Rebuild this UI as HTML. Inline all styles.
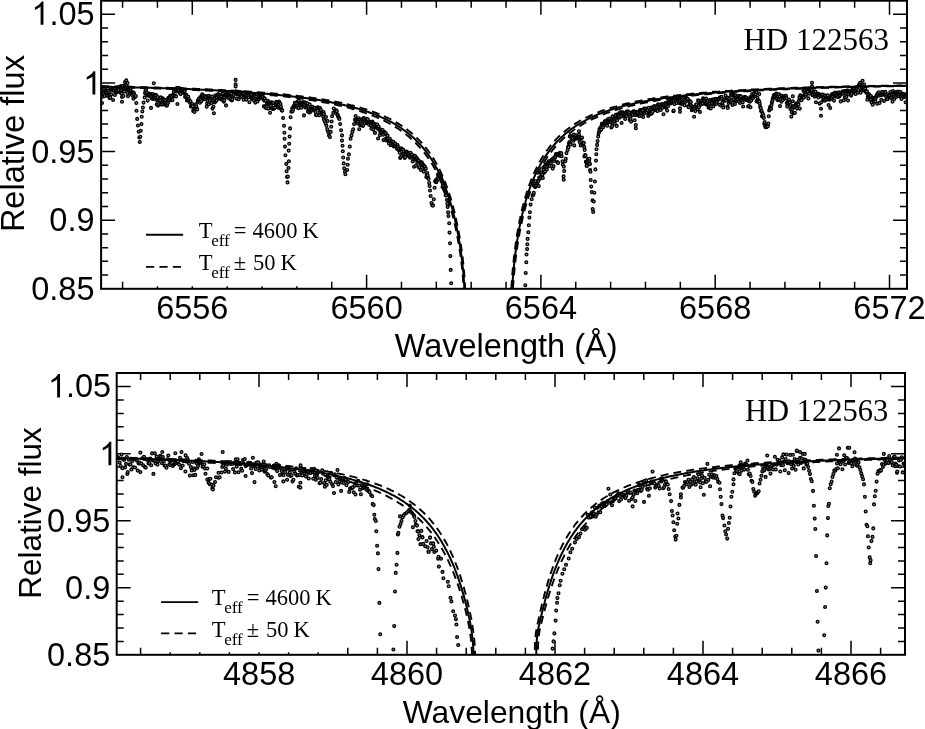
<!DOCTYPE html>
<html><head><meta charset="utf-8"><title>HD 122563</title>
<style>
html,body{margin:0;padding:0;background:#fff;}
body{width:925px;height:729px;overflow:hidden;}
svg{display:block;will-change:transform;}
.sans{font-family:"Liberation Sans",sans-serif;}
.serif{font-family:"Liberation Serif",serif;}
</style></head><body>
<svg width="925" height="729" viewBox="0 0 925 729">
<rect width="925" height="729" fill="#fff"/>
<defs><marker id="m" markerUnits="userSpaceOnUse" markerWidth="6" markerHeight="6" refX="3" refY="3" overflow="visible"><circle cx="3" cy="3" r="1.4" fill="#999" stroke="#000" stroke-width="1.3"/></marker></defs>

<defs><clipPath id="ct"><rect x="101.1" y="0.7" width="805.9" height="288.1"/></clipPath>
<clipPath id="cb"><rect x="116.7" y="373.0" width="788.3" height="281.79999999999995"/></clipPath></defs>
<path d="M192.30,288.8v-14M192.30,0.7v14M366.60,288.8v-14M366.60,0.7v14M540.90,288.8v-14M540.90,0.7v14M715.20,288.8v-14M715.20,0.7v14M889.50,288.8v-14M889.50,0.7v14M122.58,288.8v-7M122.58,0.7v7M157.44,288.8v-7M157.44,0.7v7M227.16,288.8v-7M227.16,0.7v7M262.02,288.8v-7M262.02,0.7v7M296.88,288.8v-7M296.88,0.7v7M331.74,288.8v-7M331.74,0.7v7M401.46,288.8v-7M401.46,0.7v7M436.32,288.8v-7M436.32,0.7v7M471.18,288.8v-7M471.18,0.7v7M506.04,288.8v-7M506.04,0.7v7M575.76,288.8v-7M575.76,0.7v7M610.62,288.8v-7M610.62,0.7v7M645.48,288.8v-7M645.48,0.7v7M680.34,288.8v-7M680.34,0.7v7M750.06,288.8v-7M750.06,0.7v7M784.92,288.8v-7M784.92,0.7v7M819.78,288.8v-7M819.78,0.7v7M854.64,288.8v-7M854.64,0.7v7M101.1,14.30h14M907.0,14.30h-14M101.1,82.93h14M907.0,82.93h-14M101.1,151.55h14M907.0,151.55h-14M101.1,220.18h14M907.0,220.18h-14M101.1,275.08h7M907.0,275.08h-7M101.1,261.35h7M907.0,261.35h-7M101.1,247.63h7M907.0,247.63h-7M101.1,233.90h7M907.0,233.90h-7M101.1,206.45h7M907.0,206.45h-7M101.1,192.73h7M907.0,192.73h-7M101.1,179.00h7M907.0,179.00h-7M101.1,165.28h7M907.0,165.28h-7M101.1,137.83h7M907.0,137.83h-7M101.1,124.10h7M907.0,124.10h-7M101.1,110.38h7M907.0,110.38h-7M101.1,96.65h7M907.0,96.65h-7M101.1,69.20h7M907.0,69.20h-7M101.1,55.48h7M907.0,55.48h-7M101.1,41.75h7M907.0,41.75h-7M101.1,28.03h7M907.0,28.03h-7" stroke="#000" stroke-width="1.5" fill="none"/>
<g clip-path="url(#ct)">
<path d="M101.4 88.6 101.8 90.2 102.0 97.0 102.0 103.0 102.3 90.1 102.8 93.6 103.2 91.1 103.7 94.2 104.1 88.9 104.6 96.1 105.0 91.3 105.5 92.1 105.9 91.3 106.4 90.5 106.8 89.1 107.3 93.6 107.7 88.6 108.2 92.2 108.6 95.5 109.1 90.8 109.5 98.1 110.0 94.9 110.4 97.5 110.9 89.5 111.3 94.4 111.8 89.6 112.2 89.0 112.7 89.1 113.1 100.0 113.6 90.6 114.0 88.2 114.5 88.4 114.9 95.0 115.4 90.0 115.8 92.3 116.3 91.4 116.7 92.5 117.2 91.2 117.6 87.5 118.1 91.5 118.5 89.9 119.0 87.4 119.4 87.2 119.9 86.8 120.3 92.5 120.8 86.4 121.2 92.9 121.7 93.8 122.0 97.0 122.0 101.8 122.1 90.0 122.6 85.9 123.0 88.5 123.5 96.0 123.9 88.9 124.4 91.4 124.8 85.3 125.0 82.0 125.3 88.2 125.7 86.3 126.2 89.0 126.3 80.4 126.6 86.0 127.1 89.2 127.5 83.0 127.5 93.0 128.0 89.5 128.0 96.3 128.4 87.5 128.9 89.0 129.3 87.7 129.8 92.9 130.2 90.3 130.7 88.8 131.1 92.4 131.6 93.8 132.0 94.9 132.5 92.7 132.9 92.3 133.4 98.7 133.8 92.7 134.2 94.4 134.7 97.0 135.1 96.7 135.8 96.0 136.3 103.0 136.5 110.8 137.2 118.9 137.9 125.5 138.7 131.8 139.3 137.5 139.8 142.0 140.3 136.8 140.8 130.7 141.5 124.1 141.7 116.8 142.4 111.5 142.9 107.5 143.6 102.6 144.7 97.4 145.0 93.1 145.5 90.2 145.9 89.9 146.4 93.2 146.8 92.5 147.3 94.9 147.7 100.6 148.2 95.6 148.6 95.1 149.1 93.6 149.5 95.3 150.0 94.1 150.4 94.4 150.9 96.8 151.0 107.9 151.3 96.0 151.8 98.5 152.2 94.1 152.7 94.0 153.1 98.9 153.6 95.2 153.8 83.2 154.0 98.2 154.5 98.8 154.9 95.2 155.4 94.9 155.8 97.4 156.3 95.4 156.7 104.4 157.2 100.5 157.6 97.1 158.1 105.6 158.5 99.7 159.0 104.1 159.4 99.6 159.9 100.2 160.3 100.2 160.8 97.4 161.2 104.4 161.7 103.3 162.1 104.5 162.6 98.3 163.0 99.6 163.5 99.4 163.9 103.5 164.4 104.4 164.8 102.1 165.3 100.1 165.7 103.9 166.2 103.0 166.6 105.7 167.1 105.1 167.5 99.5 168.0 102.9 168.4 97.9 168.9 100.7 169.3 98.5 169.8 99.1 170.2 95.9 170.7 96.9 171.1 95.9 171.6 100.2 172.0 96.8 172.5 100.1 172.9 94.7 173.4 95.8 173.8 91.7 174.3 96.1 174.7 95.6 175.2 89.2 175.6 91.1 176.1 96.4 176.5 91.5 177.0 88.0 177.4 104.0 177.4 88.1 177.9 91.3 178.3 89.8 178.8 90.1 179.2 88.1 179.7 92.6 180.1 93.2 180.6 94.1 181.0 90.5 181.5 89.9 181.9 89.0 182.4 91.3 182.8 92.0 183.3 92.9 183.7 91.7 184.2 91.4 184.6 91.1 185.1 97.0 185.5 95.3 186.0 94.5 186.4 96.0 186.9 100.5 187.3 99.1 187.8 99.8 188.2 96.5 188.7 99.0 189.1 100.8 189.6 101.7 190.0 102.7 190.5 101.2 190.9 106.6 191.4 106.0 191.8 104.9 192.3 104.0 192.7 106.2 193.2 111.0 193.6 109.9 194.1 109.2 194.5 111.9 195.0 109.1 195.4 109.0 195.9 104.3 196.3 106.5 196.8 108.6 197.2 109.5 197.7 101.6 198.1 100.0 198.6 100.1 199.0 98.6 199.5 101.0 199.9 102.8 200.4 97.1 200.8 99.4 201.3 101.3 201.7 96.3 202.2 94.3 202.6 95.9 203.1 98.5 203.5 97.4 204.0 99.2 204.4 98.9 204.9 95.9 205.3 99.0 205.8 97.0 206.2 97.1 206.7 106.7 207.1 103.5 207.6 100.7 208.0 96.3 208.5 95.9 208.9 104.2 209.4 98.6 209.8 100.3 210.3 96.7 210.7 96.8 211.2 98.0 211.6 103.0 212.1 96.6 212.5 108.6 213.0 100.0 213.4 106.7 213.9 113.3 214.3 98.5 214.8 102.5 215.2 95.6 215.7 101.1 216.1 99.7 216.6 100.4 217.0 95.4 217.5 94.7 217.9 94.6 218.4 94.4 218.8 98.0 219.3 96.7 219.7 95.1 220.2 98.9 220.6 96.3 221.1 97.1 221.5 98.9 222.0 99.7 222.4 94.3 222.9 93.6 223.3 99.8 223.8 101.6 224.2 100.3 224.7 95.5 225.1 96.9 225.6 95.0 226.0 105.4 226.5 94.2 226.9 93.2 227.4 93.2 227.8 97.8 228.3 93.9 228.7 93.4 229.2 98.1 229.6 93.9 230.1 92.3 230.5 99.4 231.0 94.7 231.4 93.8 231.9 100.5 232.3 99.2 232.8 96.3 233.2 96.0 233.7 94.7 234.1 92.0 234.6 92.4 235.0 92.5 235.5 92.3 235.6 79.9 235.6 84.3 235.6 86.5 235.9 91.6 236.4 98.6 236.8 94.1 237.3 91.8 237.7 94.3 238.2 94.6 238.6 99.2 239.1 94.1 239.5 92.1 240.0 93.4 240.4 97.1 240.9 92.2 241.3 96.1 241.8 93.8 242.2 93.1 242.7 93.1 243.1 92.6 243.6 99.7 244.0 93.3 244.5 96.3 244.9 96.5 245.4 96.0 245.8 95.1 246.3 99.6 246.7 93.9 247.2 95.3 247.6 93.5 248.1 92.6 248.5 97.3 249.0 94.9 249.4 102.3 249.9 94.0 250.3 93.8 250.8 97.8 251.2 94.4 251.7 98.8 252.1 98.2 252.6 99.1 253.0 97.4 253.5 98.2 253.9 100.4 254.4 94.5 254.8 95.9 255.3 102.6 255.7 94.5 256.2 96.6 256.6 100.4 257.1 94.4 257.5 101.4 258.0 99.1 258.4 99.2 258.9 99.0 259.3 97.5 259.8 96.7 260.2 96.5 260.7 96.7 261.1 97.3 261.6 97.5 262.0 96.5 262.5 97.6 262.9 97.3 263.4 99.6 263.8 106.4 264.3 100.6 264.7 98.4 265.2 106.4 265.6 100.6 266.1 108.2 266.5 106.0 267.0 103.7 267.4 103.3 267.9 100.9 268.3 108.6 268.8 102.5 269.2 104.2 269.7 104.3 270.1 112.8 270.6 102.6 271.0 105.8 271.5 108.2 271.9 102.4 272.4 103.3 272.8 109.0 273.3 103.1 273.7 108.7 274.2 108.2 274.6 107.7 275.1 107.5 275.5 104.1 276.0 104.1 276.4 101.9 276.9 103.0 277.3 102.6 277.8 107.1 278.2 107.6 278.7 104.2 279.1 101.6 279.6 102.9 280.0 108.1 280.5 104.1 280.9 106.8 281.4 109.2 281.8 110.5 282.2 110.6 283.1 118.0 284.0 125.8 284.4 132.8 284.6 138.8 285.0 146.6 285.4 155.3 286.3 163.9 286.6 171.3 287.1 176.9 287.5 182.4 287.9 176.5 288.5 168.0 288.7 150.6 288.9 161.3 289.2 143.7 289.6 136.6 290.1 128.4 290.6 117.2 291.3 111.7 292.2 108.4 292.6 111.2 293.1 109.4 293.5 106.2 294.0 106.4 294.4 105.4 294.9 102.7 295.3 104.7 295.8 105.9 296.2 103.2 296.7 106.5 297.1 107.5 297.6 101.5 298.0 105.2 298.5 108.1 298.9 100.7 299.4 103.6 299.8 105.0 300.3 104.4 300.7 103.0 301.2 107.8 301.6 104.6 302.1 103.0 302.5 102.4 303.0 105.1 303.4 104.4 303.9 102.6 304.0 115.4 304.3 104.9 304.8 102.4 305.2 107.5 305.7 103.0 306.1 103.0 306.6 107.5 307.0 107.4 307.5 103.5 307.9 111.6 308.4 106.7 308.8 108.9 309.3 112.5 309.7 104.5 310.2 109.6 310.6 111.7 311.1 109.8 311.5 108.3 312.0 110.3 312.4 106.9 312.9 109.1 313.3 108.8 313.8 108.3 314.2 109.3 314.7 107.9 315.1 110.6 315.6 111.9 316.0 115.0 316.5 115.1 316.9 108.1 317.4 108.0 317.8 107.2 318.3 108.0 318.7 107.7 319.2 115.3 319.6 111.9 320.1 108.1 320.5 109.9 321.0 110.1 321.4 113.8 321.9 114.4 322.3 112.8 322.8 113.5 323.2 116.3 323.5 112.0 323.8 118.9 324.0 114.0 324.6 121.0 325.5 123.3 326.0 117.0 326.4 125.8 327.3 129.3 327.5 121.0 328.1 131.9 329.0 135.4 329.9 137.1 330.7 131.9 331.2 126.7 331.6 121.5 332.1 116.3 333.3 112.9 333.8 108.5 335.0 111.1 335.9 110.3 336.3 111.5 336.7 110.9 337.2 114.5 337.6 114.6 338.1 116.4 338.5 117.0 339.0 118.3 339.4 118.9 340.2 124.1 341.1 130.2 342.0 135.4 342.0 140.6 342.5 145.7 342.8 151.3 343.2 157.5 343.7 163.4 344.2 168.2 344.9 171.7 345.4 174.3 347.2 170.0 347.7 164.8 348.0 158.7 348.9 154.4 349.8 146.6 350.6 138.8 351.5 135.4 352.4 131.9 353.2 129.3 354.1 124.1 354.9 119.8 355.6 116.1 356.1 119.9 356.5 121.4 357.0 121.6 357.4 120.5 357.9 123.4 358.3 121.4 358.8 118.3 359.2 129.2 359.7 119.9 360.1 125.3 360.6 124.3 361.0 121.1 361.5 124.0 361.9 119.6 362.4 119.1 362.8 126.0 363.3 125.2 363.7 118.0 364.2 118.6 364.6 123.3 365.1 120.6 365.5 119.6 366.0 119.8 366.4 118.7 366.9 123.1 367.3 122.3 367.8 119.2 368.2 122.7 368.7 122.3 369.1 124.8 369.6 121.9 370.0 121.8 370.5 122.2 370.9 125.4 371.4 128.6 371.8 123.8 372.3 121.5 372.7 122.8 373.2 129.6 373.6 123.5 374.1 124.8 374.5 126.2 375.0 132.9 375.4 124.3 375.9 127.4 376.3 125.4 376.8 126.9 377.2 124.6 377.7 128.6 378.1 138.5 378.6 126.5 379.0 128.9 379.5 130.0 379.9 135.3 380.4 133.1 380.8 129.6 381.3 130.0 381.7 132.8 382.2 132.0 382.6 130.1 383.1 134.7 383.5 140.1 384.0 132.0 384.4 132.0 384.9 133.1 385.3 139.0 385.8 133.2 386.2 140.5 386.7 138.6 387.1 135.3 387.6 135.8 388.0 139.1 388.5 140.7 388.9 143.4 389.4 141.0 389.8 138.7 390.3 140.7 390.7 145.2 391.2 143.4 391.6 141.3 392.1 141.7 392.5 142.1 393.0 145.1 393.4 141.9 393.9 146.4 394.3 145.9 394.8 146.1 395.2 143.5 395.7 146.3 396.1 146.6 396.6 145.1 397.0 148.7 397.5 145.1 397.9 146.9 398.4 150.0 398.8 149.1 399.3 148.7 399.7 152.8 400.2 158.0 400.6 157.1 401.1 148.2 401.5 149.3 402.0 155.7 402.4 149.3 402.9 153.6 403.3 149.8 403.8 151.7 404.2 153.8 404.7 157.9 405.1 157.1 405.6 153.7 406.0 154.3 406.5 151.6 406.9 152.1 407.4 154.2 407.8 153.0 408.3 154.0 408.7 156.0 409.2 153.7 409.6 157.0 410.1 157.7 410.5 152.7 411.0 156.4 411.4 154.8 411.9 154.5 412.3 157.0 412.8 161.5 413.2 159.1 413.7 156.3 414.1 166.7 414.6 159.6 415.0 155.9 415.5 159.1 415.9 165.8 416.4 157.5 416.8 158.5 417.3 162.9 417.7 159.8 418.2 161.0 418.6 160.6 419.1 167.7 419.5 167.0 420.0 162.0 420.4 163.1 420.9 169.9 421.3 163.9 421.8 162.4 422.2 164.0 422.7 165.8 423.1 164.7 423.6 171.6 424.0 165.9 424.5 168.2 424.9 166.8 425.4 168.9 425.8 168.6 426.3 177.1 426.7 174.2 427.2 173.1 427.6 175.2 428.1 177.8 428.6 178.9 429.2 183.1 429.6 186.0 430.0 190.5 430.6 196.0 431.5 203.0 432.3 205.5 433.0 205.4 433.8 199.2 434.6 187.7 435.2 181.5 435.7 180.3 436.2 182.2 436.6 181.6 437.1 179.8 437.5 178.1 438.0 174.6 438.4 179.0 438.9 174.4 439.3 175.0 439.8 176.4 440.2 176.2 440.7 178.1 441.1 177.3 441.6 181.6 442.0 180.4 442.5 187.0 442.9 184.2 443.4 185.5 443.8 188.3 444.3 190.1 444.7 189.0 445.2 191.9 445.6 195.2 446.1 195.4 446.9 200.0 447.4 203.8 447.7 206.9 448.1 212.3 448.4 216.1 449.2 223.3 449.5 232.6 450.0 243.3 450.3 256.1 450.7 269.9 451.2 283.3 525.3 285.3 525.7 273.0 526.3 262.2 526.5 254.5 527.1 249.1 527.3 244.2 527.6 238.9 528.3 232.2 528.8 225.3 529.4 217.6 529.9 212.3 530.6 204.6 531.7 199.2 532.6 195.4 533.4 194.8 533.8 192.9 534.3 186.0 534.7 186.1 535.2 187.1 535.6 186.4 536.1 185.5 536.5 183.5 537.0 183.4 537.4 182.8 537.9 180.9 538.3 181.1 538.8 186.1 539.2 177.6 539.7 179.0 540.1 177.9 540.6 172.7 541.0 176.2 541.5 172.3 541.9 175.1 542.4 174.4 542.8 177.9 543.3 167.6 543.7 169.9 544.2 172.6 544.6 166.5 545.1 171.5 545.5 164.6 546.0 164.5 546.4 166.9 546.9 169.4 547.3 164.4 547.8 163.3 548.2 162.2 548.7 161.2 549.1 165.7 549.6 166.0 550.0 161.5 550.5 161.5 550.9 163.3 551.4 160.0 551.8 159.8 552.3 159.5 552.7 168.6 553.2 158.4 553.6 166.1 554.1 160.9 554.5 158.7 555.0 156.7 555.4 156.7 555.9 154.4 556.3 154.1 556.8 155.1 557.2 162.1 557.7 154.2 558.1 162.9 558.6 154.3 559.0 155.5 559.5 155.1 559.9 152.9 560.4 155.7 560.8 153.4 561.3 153.2 561.7 156.3 562.5 161.3 562.8 164.5 563.6 176.4 563.7 179.8 563.9 166.8 564.2 171.0 565.3 161.3 565.8 158.7 566.5 153.1 567.6 150.0 568.0 147.1 568.5 147.2 568.9 143.7 569.4 142.1 569.8 136.4 570.3 143.4 570.7 144.4 571.2 136.3 571.6 138.9 572.1 136.2 572.5 138.2 573.0 135.5 573.4 140.7 573.9 134.5 574.3 145.4 574.8 139.1 575.2 138.8 575.7 137.5 576.1 135.2 576.6 138.2 577.0 137.5 577.5 137.0 577.9 138.1 578.4 138.2 578.8 136.0 579.0 131.2 579.0 134.6 579.3 139.7 579.7 141.9 580.2 138.0 580.6 145.4 581.1 138.5 581.5 138.1 582.0 137.6 582.4 144.8 582.9 142.5 583.3 143.2 583.8 142.9 584.2 146.9 584.4 156.5 584.7 149.9 585.1 155.1 585.6 155.6 586.0 161.8 586.1 162.0 586.5 161.8 586.6 165.8 586.9 165.9 587.4 161.6 587.8 159.0 588.3 159.4 588.7 159.7 589.2 160.7 589.4 158.7 589.6 163.9 589.9 164.1 590.1 170.0 590.5 171.8 590.7 180.0 591.2 186.6 591.8 192.1 592.5 200.4 592.7 209.1 593.2 211.9 593.8 201.5 594.3 192.7 594.9 181.5 595.4 169.4 596.0 160.6 596.3 154.3 596.5 149.3 597.1 144.9 597.6 141.1 598.2 136.6 598.6 133.5 599.1 131.7 599.5 129.1 600.0 130.7 600.4 128.1 600.9 127.0 601.3 129.5 601.8 123.9 602.2 127.3 602.7 123.6 603.1 127.3 603.6 123.8 604.0 124.1 604.5 123.1 604.9 121.4 605.4 121.3 605.8 121.9 606.3 123.6 606.8 124.8 607.2 125.7 607.7 119.2 608.1 122.3 608.6 120.7 609.0 121.2 609.5 118.5 609.9 120.8 610.4 122.5 610.8 120.7 611.3 127.5 611.7 120.1 612.2 125.9 612.6 116.4 613.1 121.1 613.5 118.9 614.0 122.0 614.4 119.1 614.9 123.8 615.3 116.6 615.8 114.9 616.2 119.6 616.7 125.9 617.1 120.2 617.6 114.4 618.0 115.2 618.5 116.1 618.9 115.8 619.4 117.7 619.8 112.7 620.3 116.7 620.7 112.4 621.2 112.5 621.6 123.0 622.1 115.9 622.5 112.4 623.0 112.5 623.4 113.7 623.9 116.5 624.3 113.7 624.8 115.2 625.2 119.0 625.7 115.7 626.1 113.8 626.6 111.5 627.0 116.1 627.5 113.0 627.9 111.4 628.4 113.7 628.8 114.1 629.3 112.5 629.7 119.9 630.2 116.7 630.6 118.9 631.1 121.6 631.5 112.9 632.0 112.3 632.4 113.1 632.9 115.1 633.3 111.6 633.8 111.3 634.2 111.7 634.7 120.2 635.1 111.9 635.6 115.1 635.8 125.0 635.8 128.2 636.0 113.5 636.5 111.8 636.9 113.6 637.4 114.6 637.8 112.5 638.3 114.4 638.7 115.4 639.2 115.0 639.6 116.0 640.1 110.0 640.5 110.0 641.0 113.0 641.4 115.5 641.9 109.9 642.3 111.3 642.8 110.5 643.2 116.9 643.7 112.8 644.1 108.6 644.6 112.6 645.0 113.0 645.5 108.6 645.9 109.0 646.4 111.9 646.8 109.8 647.3 109.0 647.7 110.6 648.2 115.9 648.6 107.7 649.1 114.6 649.5 111.5 650.0 114.2 650.4 112.7 650.9 112.9 651.3 107.6 651.8 113.4 652.2 109.1 652.7 111.7 653.1 107.1 653.6 108.4 654.0 106.5 654.5 106.0 654.9 107.4 655.4 109.8 655.8 109.9 656.3 109.6 656.7 110.4 657.2 107.0 657.6 111.0 658.1 104.3 658.5 105.1 659.0 105.3 659.4 107.7 659.9 105.0 660.3 107.6 660.8 110.0 661.2 106.2 661.7 104.0 662.1 107.2 662.6 107.8 663.0 104.3 663.5 114.2 663.9 105.7 664.4 104.6 664.8 107.0 665.3 103.1 665.7 107.5 666.2 103.9 666.6 106.7 667.1 110.6 667.5 102.9 668.0 106.3 668.4 101.4 668.9 102.0 669.3 103.0 669.8 103.2 670.2 101.5 670.7 103.4 671.1 99.7 671.6 102.3 672.0 101.5 672.5 99.9 672.9 98.6 673.4 111.3 673.7 110.6 673.8 101.1 674.3 104.1 674.7 97.7 675.2 97.9 675.6 100.6 676.1 101.3 676.5 103.0 677.0 98.5 677.4 99.6 677.9 99.3 678.3 99.0 678.8 99.3 679.2 103.1 679.7 98.3 680.0 108.4 680.0 111.7 680.1 101.3 680.6 103.5 681.0 97.2 681.5 103.5 681.9 102.2 682.4 103.5 682.8 104.3 683.3 100.8 683.7 102.7 684.2 99.7 684.6 105.2 685.1 101.9 685.5 97.7 686.0 98.2 686.4 98.0 686.9 98.8 687.3 100.8 687.8 98.8 688.2 106.5 688.7 107.3 689.1 100.8 689.6 104.2 690.0 101.2 690.5 104.9 690.9 102.1 691.4 106.0 691.8 110.2 692.3 108.7 692.7 107.3 693.2 108.1 693.6 107.1 694.1 116.7 694.5 109.1 695.0 106.3 695.4 111.1 695.9 105.1 696.3 104.3 696.8 108.7 697.2 108.1 697.7 109.3 698.1 100.4 698.6 101.0 699.0 107.3 699.5 103.6 699.9 111.9 700.4 102.3 700.8 104.6 701.3 100.9 701.7 102.7 702.2 104.1 702.6 103.4 703.1 98.3 703.5 98.7 704.0 101.7 704.4 99.7 704.9 99.6 705.3 101.5 705.8 104.2 706.2 98.5 706.7 101.7 707.1 104.6 707.6 104.6 708.0 101.0 708.5 107.6 708.9 105.3 709.4 106.8 709.8 100.1 710.3 101.1 710.7 108.5 711.2 106.0 711.6 102.0 712.1 102.9 712.5 99.5 713.0 99.8 713.4 106.2 713.9 99.6 714.3 103.3 714.8 103.9 715.2 99.1 715.7 98.8 716.1 103.7 716.6 101.8 717.0 99.5 717.5 99.5 717.9 99.7 718.4 99.4 718.8 99.1 719.3 104.6 719.7 97.5 720.2 97.9 720.6 98.5 721.1 105.7 721.5 96.8 722.0 98.9 722.4 102.7 722.9 105.5 723.3 107.5 723.8 100.4 724.2 99.5 724.7 100.8 725.1 99.5 725.6 95.6 726.0 100.3 726.5 97.7 726.9 98.1 727.4 106.5 727.8 107.9 728.3 97.9 728.7 103.0 729.2 98.7 729.6 101.3 730.1 101.8 730.5 101.7 731.0 94.5 731.4 100.1 731.9 95.4 732.3 105.0 732.8 102.7 733.2 95.1 733.7 99.4 734.1 95.6 734.6 95.4 735.0 104.0 735.5 101.1 735.9 95.2 736.4 100.8 736.8 98.8 737.3 96.8 737.7 99.6 738.2 101.2 738.6 96.6 739.1 101.5 739.5 95.8 740.0 103.0 740.4 98.8 740.9 96.4 741.3 99.5 741.8 100.7 742.2 101.1 742.7 102.2 743.1 106.5 743.6 97.6 744.0 98.7 744.5 98.6 744.9 96.9 745.4 99.4 745.8 97.5 746.3 97.9 746.7 99.9 747.2 100.2 747.6 99.8 748.1 106.5 748.5 100.9 749.0 106.0 749.4 99.1 749.9 101.8 750.3 97.0 750.5 107.2 750.8 97.5 751.2 100.4 751.7 96.9 752.1 94.0 752.6 96.9 753.0 98.1 753.5 96.0 753.9 93.5 754.4 96.0 754.8 90.9 755.3 96.0 755.7 94.3 756.2 92.3 756.6 101.4 757.1 100.7 757.5 97.7 758.0 100.4 758.4 100.8 758.9 102.5 759.3 94.0 759.3 101.4 759.8 103.8 760.2 106.9 760.7 107.9 761.1 110.9 761.6 111.0 762.0 116.2 762.5 113.4 762.9 116.7 763.4 115.2 763.8 118.0 764.3 123.7 764.7 122.1 765.2 126.1 765.6 127.2 766.1 126.8 766.5 127.2 767.0 126.3 767.4 125.4 767.9 126.3 768.3 123.6 768.8 116.3 769.2 110.5 769.7 109.1 770.1 107.1 770.6 107.6 771.0 108.9 771.5 105.0 771.9 102.5 772.4 101.0 772.8 98.8 773.3 97.5 773.7 96.1 774.2 95.7 774.6 94.5 775.1 96.4 775.5 94.8 776.0 95.2 776.4 93.5 776.9 99.0 777.3 95.0 777.8 100.2 778.2 96.4 778.7 99.5 779.1 94.3 779.6 96.5 780.0 106.1 780.5 99.2 780.9 99.1 781.4 101.8 781.8 95.9 782.3 97.7 782.7 100.2 783.2 97.5 783.6 96.5 784.1 98.8 784.5 98.1 785.0 97.9 785.4 95.8 785.9 95.9 786.3 97.9 786.8 103.1 787.2 106.4 787.7 102.9 788.1 101.4 788.6 100.2 789.0 99.5 789.5 102.3 789.9 102.2 790.4 109.0 790.8 105.3 791.3 116.6 791.7 112.2 792.2 108.9 792.6 106.6 792.8 96.2 792.8 101.2 793.1 106.2 793.5 113.1 794.0 112.9 794.4 107.3 794.9 112.7 795.3 105.6 795.8 105.8 796.2 103.4 796.7 104.1 797.1 108.6 797.6 104.6 798.0 103.5 798.5 104.6 798.9 100.9 799.4 97.4 799.8 108.6 800.3 95.3 800.7 99.6 801.2 95.8 801.6 100.3 802.1 97.4 802.5 96.3 803.0 97.4 803.4 90.8 803.9 97.6 804.3 91.6 804.8 94.2 805.2 90.2 805.7 95.7 806.1 94.2 806.6 89.6 807.0 89.7 807.5 89.9 807.9 92.1 808.4 98.4 808.8 88.7 809.3 93.8 809.7 90.3 810.2 91.2 810.6 90.5 811.1 87.7 811.5 89.9 812.0 86.4 812.0 82.7 812.4 95.1 812.9 94.0 813.3 92.3 813.8 91.5 814.2 91.8 814.7 96.6 815.1 94.5 815.6 91.7 816.0 102.2 816.5 95.4 816.9 94.1 817.4 96.3 817.8 94.9 818.3 97.4 818.7 93.9 819.2 94.6 819.6 103.6 820.1 95.1 820.5 95.7 821.0 96.4 821.0 108.7 821.0 115.8 821.4 102.3 821.9 96.0 822.3 94.5 822.8 94.8 823.2 99.8 823.7 97.4 824.1 100.2 824.6 95.4 825.0 100.6 825.5 97.7 825.9 96.8 826.4 99.5 826.8 96.2 827.3 95.7 827.7 95.4 828.2 99.4 828.6 105.0 829.1 98.3 829.5 99.2 830.0 99.6 830.2 108.0 830.4 98.3 830.9 98.0 831.3 95.2 831.8 97.9 832.2 94.0 832.7 95.2 833.1 96.6 833.6 93.5 834.0 100.6 834.5 94.1 834.9 95.4 835.4 92.5 835.8 96.6 836.3 93.3 836.7 96.1 837.2 95.8 837.6 92.8 838.1 97.1 838.5 94.0 839.0 92.4 839.4 96.4 839.9 95.3 840.3 93.7 840.8 101.4 841.2 93.0 841.7 93.5 842.1 93.5 842.6 91.6 843.0 93.8 843.5 91.5 843.9 100.2 844.4 91.4 844.8 97.2 845.3 91.6 845.7 93.1 846.2 97.1 846.6 90.9 847.1 90.6 847.5 91.4 848.0 100.5 848.4 94.4 848.9 92.1 849.3 92.4 849.8 91.5 850.2 91.2 850.7 91.8 851.1 95.6 851.6 93.8 852.0 90.5 852.5 89.5 852.9 90.3 853.4 91.0 853.8 92.0 854.3 88.0 854.7 93.0 855.2 92.1 855.6 93.9 856.1 90.2 856.5 87.9 857.0 89.0 857.4 91.8 857.9 92.6 858.3 90.1 858.8 85.5 859.2 84.6 859.7 85.1 860.1 82.8 860.6 92.7 861.0 85.1 861.5 89.7 861.9 86.4 862.4 85.4 862.6 80.8 862.8 89.2 863.3 90.4 863.7 88.9 864.2 84.6 864.6 88.1 865.1 88.8 865.5 91.6 866.0 91.4 866.4 92.8 866.9 91.4 867.3 99.7 867.8 96.7 868.2 93.9 868.7 95.9 869.1 94.4 869.6 98.3 870.0 95.7 870.5 99.7 870.9 96.0 871.4 101.8 871.8 102.5 872.3 97.7 872.7 104.7 873.2 98.9 873.6 98.0 874.1 101.4 874.5 97.9 875.0 99.6 875.4 101.6 875.9 97.9 876.3 96.0 876.8 95.1 877.2 103.7 877.7 93.2 878.1 95.3 878.6 95.7 879.0 92.3 879.5 102.9 879.9 94.7 880.4 94.5 880.8 95.3 881.3 99.7 881.7 94.1 882.2 91.7 882.6 94.3 883.1 94.7 883.5 93.3 884.0 101.0 884.4 94.4 884.9 93.9 885.3 91.9 885.8 95.5 886.2 96.4 886.7 99.0 887.1 94.2 887.6 99.1 888.0 96.5 888.5 96.3 888.9 95.0 889.4 96.7 889.8 95.4 890.3 92.0 890.7 97.7 891.2 97.8 891.6 95.6 892.1 94.1 892.5 101.6 893.0 91.0 893.4 93.6 893.9 94.3 894.3 98.9 894.8 92.6 895.2 96.1 895.7 92.2 896.1 97.0 896.6 92.9 897.0 94.3 897.5 95.6 897.9 91.5 898.4 96.2 898.8 92.8 899.3 94.7 899.7 92.6 900.2 91.8 900.6 96.8 901.1 94.8 901.5 98.9 902.0 93.5 902.4 95.9 902.9 93.8 903.3 96.6 903.8 94.4 904.2 96.4 904.7 96.3 905.1 97.1 905.6 102.3 906.0 97.0 906.5 95.6 906.9 93.7" stroke="none" fill="none" marker-start="url(#m)" marker-mid="url(#m)" marker-end="url(#m)"/>
<path d="M101.1 86.6 103.1 86.6 105.1 86.7 107.1 86.7 109.1 86.8 111.1 86.8 113.1 86.9 115.1 86.9 117.1 86.9 119.1 87.0 121.1 87.0 123.1 87.1 125.1 87.1 127.1 87.2 129.1 87.2 131.1 87.3 133.1 87.3 135.1 87.4 137.1 87.4 139.1 87.5 141.1 87.5 143.1 87.6 145.1 87.7 147.1 87.7 149.1 87.8 151.1 87.8 153.1 87.9 155.1 87.9 157.1 88.0 159.1 88.1 161.1 88.1 163.1 88.2 165.1 88.3 167.1 88.3 169.1 88.4 171.1 88.5 173.1 88.5 175.1 88.6 177.1 88.7 179.1 88.8 181.1 88.8 183.1 88.9 185.1 89.0 187.1 89.1 189.1 89.1 191.1 89.2 193.1 89.3 195.1 89.4 197.1 89.5 199.1 89.6 201.1 89.7 203.1 89.8 205.1 89.8 207.1 89.9 209.1 90.0 211.1 90.1 213.1 90.2 215.1 90.3 217.1 90.4 219.1 90.5 221.1 90.7 223.1 90.8 225.1 90.9 227.1 91.0 229.1 91.1 231.1 91.2 233.1 91.3 235.1 91.5 237.1 91.6 239.1 91.7 241.1 91.9 243.1 92.0 245.1 92.1 247.1 92.3 249.1 92.4 251.1 92.6 253.1 92.7 255.1 92.9 257.1 93.0 259.1 93.2 261.1 93.3 263.1 93.5 265.1 93.7 267.1 93.8 269.1 94.0 271.1 94.2 273.1 94.4 275.1 94.6 277.1 94.8 279.1 95.0 281.1 95.2 283.1 95.4 285.1 95.6 287.1 95.8 289.1 96.0 291.1 96.2 293.1 96.5 295.1 96.7 297.1 97.0 299.1 97.2 301.1 97.5 303.1 97.7 305.1 98.0 307.1 98.3 309.1 98.6 311.1 98.9 313.1 99.2 315.1 99.5 317.1 99.8 319.1 100.1 321.1 100.4 323.1 100.8 325.1 101.1 327.1 101.5 329.1 101.9 331.1 102.3 333.1 102.7 335.1 103.1 337.1 103.5 339.1 103.9 341.1 104.4 343.0 104.8 345.0 105.3 346.9 105.7 348.9 106.2 350.8 106.7 352.8 107.2 354.7 107.8 356.7 108.3 358.6 108.9 360.6 109.5 362.5 110.1 364.5 110.7 366.4 111.4 368.3 112.0 370.2 112.7 372.1 113.4 374.0 114.1 375.9 114.9 377.8 115.7 379.6 116.4 381.5 117.3 383.3 118.1 385.2 119.0 387.0 119.9 388.8 120.8 390.6 121.7 392.4 122.7 394.1 123.7 395.9 124.7 397.6 125.8 399.3 126.9 401.0 128.0 402.7 129.2 404.3 130.4 406.0 131.6 407.6 132.8 409.2 134.1 410.7 135.4 412.3 136.8 413.8 138.1 415.3 139.5 416.7 141.0 418.2 142.4 419.6 143.9 420.9 145.4 422.3 146.9 423.6 148.5 424.9 150.1 426.1 151.7 427.3 153.3 428.5 155.0 429.7 156.6 430.8 158.3 431.9 160.0 433.0 161.8 434.1 163.6 435.1 165.4 436.1 167.2 437.1 168.9 438.0 170.8 438.9 172.5 439.8 174.4 440.7 176.2 441.5 178.1 442.4 180.0 443.2 181.9 444.0 183.9 444.7 185.8 445.5 187.7 446.2 189.6 446.9 191.5 447.6 193.5 448.2 195.5 448.9 197.4 449.5 199.5 450.1 201.4 450.7 203.5 451.3 205.5 451.9 207.5 452.4 209.5 453.0 211.6 453.5 213.5 454.0 215.5 454.5 217.6 455.0 219.7 455.4 221.7 455.9 223.7 456.3 225.8 456.8 228.0 457.2 229.9 457.6 232.0 458.0 234.1 458.4 236.2 458.8 238.4 459.1 240.4 459.5 242.5 459.8 244.6 460.2 246.8 460.5 249.1 460.8 251.2 461.1 253.3 461.4 255.5 461.7 257.8 462.0 259.8 462.2 261.9 462.5 264.1 462.7 266.4 463.0 268.9 463.2 271.0 463.4 273.3 463.6 275.8 463.7 277.8 463.9 280.0 464.0 282.4 464.2 285.1 464.3 288.1 464.4 290.4 464.5 293.0 464.6 295.9 464.7 299.3 464.8 303.2 464.9 305.5 464.9 307.9 465.0 310.7 465.0 313.8 465.1 317.3 465.1 321.2 465.2 325.9M510.5 327.2 510.6 323.5 510.7 320.1 510.8 316.9 510.9 314.0 511.0 311.2 511.1 308.6 511.2 306.2 511.3 303.9 511.4 301.7 511.5 299.7 511.6 296.8 511.8 294.0 511.9 291.4 512.1 289.0 512.2 286.7 512.4 284.5 512.5 282.4 512.7 280.4 512.9 277.9 513.1 275.4 513.3 273.1 513.5 270.9 513.7 268.8 513.9 266.8 514.1 264.3 514.4 262.0 514.6 259.7 514.9 257.6 515.1 255.5 515.4 253.5 515.7 251.2 516.0 248.9 516.3 246.8 516.6 244.7 516.9 242.7 517.2 240.4 517.6 238.2 517.9 236.1 518.3 234.0 518.6 232.1 519.0 229.9 519.4 227.7 519.8 225.7 520.2 223.7 520.7 221.5 521.1 219.4 521.6 217.3 522.0 215.4 522.5 213.2 523.0 211.2 523.5 209.2 524.1 207.1 524.6 205.0 525.2 203.0 525.7 201.1 526.3 199.0 526.9 197.1 527.5 195.1 528.2 193.1 528.8 191.2 529.5 189.2 530.2 187.2 530.9 185.3 531.7 183.4 532.4 181.5 533.2 179.5 534.0 177.6 534.9 175.7 535.7 173.8 536.6 171.9 537.5 170.1 538.5 168.2 539.4 166.4 540.4 164.6 541.4 162.8 542.5 161.0 543.5 159.3 544.6 157.5 545.7 155.9 546.9 154.2 548.1 152.5 549.3 150.9 550.5 149.2 551.8 147.7 553.1 146.1 554.4 144.5 555.8 143.0 557.2 141.5 558.6 140.1 560.0 138.6 561.5 137.2 563.0 135.9 564.5 134.5 566.1 133.2 567.7 131.9 569.3 130.6 570.9 129.4 572.5 128.3 574.2 127.1 575.9 126.0 577.6 124.9 579.3 123.8 581.1 122.8 582.8 121.8 584.6 120.8 586.4 119.8 588.2 118.9 590.0 118.0 591.9 117.1 593.7 116.3 595.6 115.5 597.4 114.7 599.3 113.9 601.2 113.2 603.1 112.4 605.0 111.8 606.9 111.1 608.8 110.4 610.7 109.8 612.7 109.2 614.6 108.6 616.6 108.0 618.5 107.4 620.5 106.9 622.4 106.3 624.4 105.8 626.3 105.3 628.3 104.8 630.2 104.4 632.2 103.9 634.2 103.5 636.2 103.0 638.2 102.6 640.2 102.2 642.2 101.8 644.2 101.4 646.2 101.0 648.2 100.7 650.2 100.3 652.2 100.0 654.2 99.6 656.2 99.3 658.2 99.0 660.2 98.7 662.2 98.4 664.2 98.1 666.2 97.8 668.2 97.5 670.2 97.2 672.2 97.0 674.2 96.7 676.2 96.5 678.2 96.2 680.2 96.0 682.2 95.8 684.2 95.5 686.2 95.3 688.2 95.1 690.2 94.9 692.2 94.7 694.2 94.5 696.2 94.3 698.2 94.1 700.2 93.9 702.2 93.7 704.2 93.5 706.2 93.4 708.2 93.2 710.2 93.0 712.2 92.9 714.2 92.7 716.2 92.5 718.2 92.4 720.2 92.2 722.2 92.1 724.2 91.9 726.2 91.8 728.2 91.7 730.2 91.5 732.2 91.4 734.2 91.3 736.2 91.1 738.2 91.0 740.2 90.9 742.2 90.8 744.2 90.7 746.2 90.5 748.2 90.4 750.2 90.3 752.2 90.2 754.2 90.1 756.2 90.0 758.2 89.9 760.2 89.8 762.2 89.7 764.2 89.6 766.2 89.5 768.2 89.4 770.2 89.3 772.2 89.2 774.2 89.2 776.2 89.1 778.2 89.0 780.2 88.9 782.2 88.8 784.2 88.7 786.2 88.7 788.2 88.6 790.2 88.5 792.2 88.4 794.2 88.4 796.2 88.3 798.2 88.2 800.2 88.2 802.2 88.1 804.2 88.0 806.2 88.0 808.2 87.9 810.2 87.8 812.2 87.8 814.2 87.7 816.2 87.6 818.2 87.6 820.2 87.5 822.2 87.5 824.2 87.4 826.2 87.4 828.2 87.3 830.2 87.2 832.2 87.2 834.2 87.1 836.2 87.1 838.2 87.0 840.2 87.0 842.2 86.9 844.2 86.9 846.2 86.8 848.2 86.8 850.2 86.8 852.2 86.7 854.2 86.7 856.2 86.6 858.2 86.6 860.2 86.5 862.2 86.5 864.2 86.5 866.2 86.4 868.2 86.4 870.2 86.3 872.2 86.3 874.2 86.3 876.2 86.2 878.2 86.2 880.2 86.1 882.2 86.1 884.2 86.1 886.2 86.0 888.2 86.0 890.2 86.0 892.2 85.9 894.2 85.9 896.2 85.9 898.2 85.8 900.2 85.8 902.2 85.8 904.2 85.7 906.2 85.7 907.0 85.7" stroke="#000" stroke-width="2" fill="none"/>
<path d="M101.1 87.0 103.1 87.0 105.1 87.1 107.1 87.1 109.1 87.2 111.1 87.2 113.1 87.3 115.1 87.3 117.1 87.4 119.1 87.4 121.1 87.5 123.1 87.5 125.1 87.6 127.1 87.6 129.1 87.7 131.1 87.7 133.1 87.8 135.1 87.8 137.1 87.9 139.1 88.0 141.1 88.0 143.1 88.1 145.1 88.1 147.1 88.2 149.1 88.3 151.1 88.3 153.1 88.4 155.1 88.5 157.1 88.5 159.1 88.6 161.1 88.7 163.1 88.7 165.1 88.8 167.1 88.9 169.1 88.9 171.1 89.0 173.1 89.1 175.1 89.2 177.1 89.2 179.1 89.3 181.1 89.4 183.1 89.5 185.1 89.6 187.1 89.7 189.1 89.7 191.1 89.8 193.1 89.9 195.1 90.0 197.1 90.1 199.1 90.2 201.1 90.3 203.1 90.4 205.1 90.5 207.1 90.6 209.1 90.7 211.1 90.8 213.1 90.9 215.1 91.0 217.1 91.1 219.1 91.3 221.1 91.4 223.1 91.5 225.1 91.6 227.1 91.7 229.1 91.9 231.1 92.0 233.1 92.1 235.1 92.2 237.1 92.4 239.1 92.5 241.1 92.7 243.1 92.8 245.1 92.9 247.1 93.1 249.1 93.3 251.1 93.4 253.1 93.6 255.1 93.7 257.1 93.9 259.1 94.1 261.1 94.2 263.1 94.4 265.1 94.6 267.1 94.8 269.1 95.0 271.1 95.2 273.1 95.4 275.1 95.6 277.1 95.8 279.1 96.0 281.1 96.2 283.1 96.4 285.1 96.6 287.1 96.9 289.1 97.1 291.1 97.3 293.1 97.6 295.1 97.8 297.1 98.1 299.1 98.4 301.1 98.6 303.1 98.9 305.1 99.2 307.1 99.5 309.1 99.8 311.1 100.1 313.1 100.4 315.1 100.8 317.1 101.1 319.1 101.4 321.1 101.8 323.1 102.2 325.1 102.5 327.1 102.9 329.1 103.3 331.1 103.7 333.1 104.1 335.1 104.6 337.1 105.0 339.1 105.5 341.0 105.9 343.0 106.4 344.9 106.9 346.9 107.4 348.8 107.9 350.8 108.4 352.7 109.0 354.7 109.5 356.6 110.1 358.6 110.7 360.5 111.3 362.5 112.0 364.4 112.6 366.3 113.3 368.2 113.9 370.1 114.7 372.0 115.4 373.9 116.2 375.7 116.9 377.6 117.7 379.4 118.5 381.3 119.4 383.1 120.3 384.9 121.1 386.7 122.1 388.5 123.0 390.3 124.0 392.1 125.0 393.8 126.0 395.6 127.1 397.3 128.2 399.0 129.3 400.7 130.5 402.3 131.6 404.0 132.9 405.6 134.1 407.2 135.4 408.7 136.6 410.3 138.0 411.8 139.3 413.3 140.7 414.7 142.1 416.2 143.5 417.6 145.0 419.0 146.5 420.3 148.0 421.7 149.6 423.0 151.2 424.2 152.7 425.5 154.4 426.7 156.0 427.9 157.7 429.0 159.3 430.2 161.1 431.3 162.8 432.4 164.6 433.4 166.3 434.4 168.1 435.4 169.9 436.4 171.6 437.3 173.5 438.2 175.3 439.1 177.1 440.0 178.9 440.8 180.8 441.7 182.7 442.5 184.6 443.3 186.6 444.0 188.5 444.8 190.4 445.5 192.3 446.2 194.2 446.9 196.2 447.5 198.1 448.2 200.1 448.8 202.1 449.4 204.1 450.0 206.0 450.6 208.1 451.2 210.0 451.7 212.0 452.3 214.1 452.8 216.2 453.3 218.2 453.8 220.2 454.3 222.3 454.8 224.5 455.3 226.5 455.7 228.6 456.2 230.7 456.6 232.9 457.0 234.9 457.4 237.0 457.8 239.1 458.2 241.3 458.6 243.3 458.9 245.4 459.3 247.5 459.6 249.7 460.0 252.0 460.3 254.1 460.6 256.2 460.9 258.4 461.2 260.7 461.4 262.8 461.7 264.9 461.9 267.2 462.2 269.6 462.4 271.6 462.6 273.9 462.8 276.3 463.0 278.9 463.1 281.1 463.3 283.5 463.4 286.2 463.6 289.3 463.7 291.6 463.8 294.2 463.9 297.1 464.0 300.5 464.1 304.4 464.1 306.7 464.2 309.1 464.2 311.9 464.3 315.0 464.3 318.4 464.4 322.4 464.4 326.9M511.2 327.3 511.3 323.7 511.4 320.4 511.5 317.4 511.6 314.5 511.7 311.9 511.8 309.4 511.9 307.0 512.0 304.8 512.1 302.7 512.2 300.7 512.4 297.8 512.5 295.1 512.7 292.6 512.8 290.2 513.0 288.0 513.1 285.8 513.3 283.8 513.5 281.2 513.7 278.7 513.9 276.4 514.1 274.1 514.3 272.0 514.5 269.9 514.7 267.4 515.0 265.1 515.2 262.8 515.5 260.7 515.7 258.6 516.0 256.6 516.3 254.2 516.6 252.0 516.9 249.8 517.2 247.7 517.5 245.7 517.8 243.5 518.2 241.3 518.5 239.1 518.9 237.1 519.2 235.1 519.6 232.9 520.0 230.8 520.4 228.7 520.8 226.7 521.3 224.6 521.7 222.5 522.2 220.4 522.6 218.4 523.1 216.3 523.6 214.3 524.1 212.3 524.7 210.1 525.2 208.1 525.8 206.1 526.3 204.2 526.9 202.1 527.5 200.1 528.1 198.2 528.8 196.2 529.4 194.3 530.1 192.2 530.8 190.3 531.5 188.4 532.3 186.4 533.0 184.5 533.8 182.5 534.6 180.6 535.4 178.8 536.3 176.9 537.1 175.1 538.0 173.2 538.9 171.4 539.9 169.6 540.8 167.8 541.8 166.0 542.8 164.3 543.9 162.5 545.0 160.8 546.1 159.1 547.2 157.3 548.4 155.7 549.6 154.0 550.8 152.4 552.0 150.8 553.3 149.2 554.6 147.6 556.0 146.1 557.3 144.6 558.7 143.1 560.1 141.6 561.6 140.2 563.1 138.8 564.6 137.4 566.1 136.1 567.7 134.8 569.3 133.5 570.9 132.2 572.5 131.0 574.1 129.8 575.8 128.7 577.5 127.5 579.2 126.4 580.9 125.4 582.6 124.3 584.4 123.3 586.1 122.3 587.9 121.4 589.7 120.4 591.5 119.5 593.4 118.7 595.2 117.8 597.1 117.0 598.9 116.2 600.8 115.4 602.7 114.6 604.6 113.9 606.5 113.2 608.4 112.5 610.3 111.8 612.2 111.2 614.1 110.6 616.0 109.9 618.0 109.3 619.9 108.8 621.9 108.2 623.8 107.6 625.8 107.1 627.7 106.6 629.7 106.1 631.6 105.6 633.6 105.2 635.5 104.7 637.5 104.2 639.5 103.8 641.5 103.4 643.5 103.0 645.5 102.6 647.5 102.2 649.5 101.8 651.5 101.4 653.5 101.1 655.5 100.7 657.5 100.4 659.5 100.0 661.5 99.7 663.5 99.4 665.5 99.1 667.5 98.8 669.5 98.5 671.5 98.2 673.5 98.0 675.5 97.7 677.5 97.4 679.5 97.2 681.5 96.9 683.5 96.7 685.5 96.4 687.5 96.2 689.5 96.0 691.5 95.8 693.5 95.5 695.5 95.3 697.5 95.1 699.5 94.9 701.5 94.7 703.5 94.5 705.5 94.3 707.5 94.2 709.5 94.0 711.5 93.8 713.5 93.6 715.5 93.5 717.5 93.3 719.5 93.1 721.5 93.0 723.5 92.8 725.5 92.7 727.5 92.5 729.5 92.4 731.5 92.2 733.5 92.1 735.5 91.9 737.5 91.8 739.5 91.7 741.5 91.6 743.5 91.4 745.5 91.3 747.5 91.2 749.5 91.1 751.5 90.9 753.5 90.8 755.5 90.7 757.5 90.6 759.5 90.5 761.5 90.4 763.5 90.3 765.5 90.2 767.5 90.1 769.5 90.0 771.5 89.9 773.5 89.8 775.5 89.7 777.5 89.6 779.5 89.5 781.5 89.4 783.5 89.4 785.5 89.3 787.5 89.2 789.5 89.1 791.5 89.0 793.5 88.9 795.5 88.9 797.5 88.8 799.5 88.7 801.5 88.6 803.5 88.6 805.5 88.5 807.5 88.4 809.5 88.4 811.5 88.3 813.5 88.2 815.5 88.2 817.5 88.1 819.5 88.0 821.5 88.0 823.5 87.9 825.5 87.8 827.5 87.8 829.5 87.7 831.5 87.7 833.5 87.6 835.5 87.6 837.5 87.5 839.5 87.4 841.5 87.4 843.5 87.3 845.5 87.3 847.5 87.2 849.5 87.2 851.5 87.1 853.5 87.1 855.5 87.0 857.5 87.0 859.5 86.9 861.5 86.9 863.5 86.9 865.5 86.8 867.5 86.8 869.5 86.7 871.5 86.7 873.5 86.6 875.5 86.6 877.5 86.6 879.5 86.5 881.5 86.5 883.5 86.4 885.5 86.4 887.5 86.4 889.5 86.3 891.5 86.3 893.5 86.3 895.5 86.2 897.5 86.2 899.5 86.1 901.5 86.1 903.5 86.1 905.5 86.0 907.0 86.0" stroke="#000" stroke-width="1.9" fill="none" stroke-dasharray="8 5"/>
<path d="M101.1 86.2 103.1 86.3 105.1 86.3 107.1 86.3 109.1 86.4 111.1 86.4 113.1 86.5 115.1 86.5 117.1 86.5 119.1 86.6 121.1 86.6 123.1 86.7 125.1 86.7 127.1 86.8 129.1 86.8 131.1 86.8 133.1 86.9 135.1 86.9 137.1 87.0 139.1 87.0 141.1 87.1 143.1 87.1 145.1 87.2 147.1 87.2 149.1 87.3 151.1 87.3 153.1 87.4 155.1 87.5 157.1 87.5 159.1 87.6 161.1 87.6 163.1 87.7 165.1 87.8 167.1 87.8 169.1 87.9 171.1 87.9 173.1 88.0 175.1 88.1 177.1 88.1 179.1 88.2 181.1 88.3 183.1 88.3 185.1 88.4 187.1 88.5 189.1 88.6 191.1 88.6 193.1 88.7 195.1 88.8 197.1 88.9 199.1 89.0 201.1 89.0 203.1 89.1 205.1 89.2 207.1 89.3 209.1 89.4 211.1 89.5 213.1 89.6 215.1 89.7 217.1 89.8 219.1 89.9 221.1 90.0 223.1 90.1 225.1 90.2 227.1 90.3 229.1 90.4 231.1 90.5 233.1 90.6 235.1 90.7 237.1 90.8 239.1 91.0 241.1 91.1 243.1 91.2 245.1 91.3 247.1 91.5 249.1 91.6 251.1 91.7 253.1 91.9 255.1 92.0 257.1 92.1 259.1 92.3 261.1 92.4 263.1 92.6 265.1 92.8 267.1 92.9 269.1 93.1 271.1 93.2 273.1 93.4 275.1 93.6 277.1 93.8 279.1 94.0 281.1 94.2 283.1 94.3 285.1 94.5 287.1 94.7 289.1 95.0 291.1 95.2 293.1 95.4 295.1 95.6 297.1 95.8 299.1 96.1 301.1 96.3 303.1 96.6 305.1 96.8 307.1 97.1 309.1 97.3 311.1 97.6 313.1 97.9 315.1 98.2 317.1 98.5 319.1 98.8 321.1 99.1 323.1 99.4 325.1 99.8 327.1 100.1 329.1 100.4 331.1 100.8 333.1 101.2 335.1 101.6 337.1 102.0 339.1 102.4 341.1 102.8 343.1 103.2 345.1 103.7 347.0 104.1 349.0 104.6 350.9 105.1 352.9 105.5 354.8 106.1 356.8 106.6 358.7 107.1 360.7 107.7 362.6 108.3 364.6 108.9 366.5 109.5 368.4 110.1 370.3 110.7 372.2 111.4 374.1 112.1 376.0 112.8 377.9 113.6 379.8 114.3 381.7 115.1 383.5 115.9 385.4 116.8 387.2 117.6 389.0 118.5 390.8 119.4 392.6 120.4 394.4 121.4 396.2 122.4 397.9 123.4 399.7 124.5 401.4 125.6 403.1 126.7 404.7 127.8 406.4 129.0 408.0 130.2 409.6 131.5 411.2 132.8 412.7 134.1 414.3 135.5 415.8 136.8 417.2 138.2 418.7 139.7 420.1 141.1 421.5 142.6 422.8 144.2 424.2 145.7 425.5 147.3 426.7 148.9 428.0 150.5 429.2 152.2 430.4 153.9 431.5 155.6 432.6 157.3 433.7 159.0 434.8 160.8 435.8 162.6 436.8 164.3 437.8 166.2 438.8 168.0 439.7 169.8 440.6 171.7 441.4 173.5 442.3 175.3 443.1 177.3 443.9 179.2 444.7 181.1 445.5 183.0 446.2 185.0 446.9 186.9 447.6 188.8 448.3 190.9 449.0 192.8 449.6 194.8 450.3 196.9 450.9 198.8 451.5 200.9 452.1 203.0 452.6 205.0 453.2 207.0 453.7 209.1 454.2 211.1 454.7 213.1 455.2 215.2 455.7 217.4 456.2 219.4 456.6 221.5 457.1 223.6 457.5 225.8 457.9 227.8 458.3 229.9 458.7 232.0 459.1 234.2 459.5 236.2 459.8 238.2 460.2 240.3 460.5 242.5 460.9 244.8 461.2 246.8 461.5 248.8 461.8 251.0 462.1 253.2 462.4 255.5 462.6 257.5 462.9 259.6 463.1 261.8 463.4 264.1 463.6 266.6 463.8 268.6 464.0 270.9 464.2 273.3 464.4 275.9 464.6 278.0 464.7 280.4 464.9 283.0 465.0 285.9 465.1 288.0 465.2 290.5 465.3 293.2 465.4 296.3 465.5 299.9 465.6 301.9 465.6 304.2 465.7 306.7 465.7 309.4 465.8 312.5 465.8 316.0 465.9 320.0 465.9 324.7M509.7 327.2 509.8 325.2 509.9 321.4 510.0 318.0 510.1 314.8 510.2 311.9 510.3 309.1 510.4 306.5 510.5 304.1 510.6 301.8 510.7 299.6 510.8 297.6 510.9 294.6 511.1 291.9 511.2 289.3 511.4 286.9 511.5 284.6 511.7 282.4 511.8 280.3 512.0 278.2 512.2 275.7 512.4 273.2 512.6 270.9 512.8 268.7 513.0 266.5 513.2 264.5 513.4 262.0 513.7 259.7 513.9 257.4 514.2 255.2 514.4 253.1 514.7 251.1 515.0 248.7 515.3 246.5 515.6 244.3 515.9 242.2 516.2 240.2 516.5 237.9 516.9 235.6 517.2 233.5 517.6 231.4 517.9 229.4 518.3 227.2 518.7 225.0 519.1 223.0 519.5 220.9 520.0 218.7 520.4 216.6 520.9 214.6 521.3 212.6 521.8 210.4 522.3 208.3 522.8 206.3 523.3 204.4 523.9 202.3 524.4 200.3 525.0 198.4 525.6 196.3 526.2 194.3 526.8 192.4 527.4 190.4 528.1 188.4 528.8 186.4 529.5 184.4 530.2 182.5 530.9 180.6 531.7 178.7 532.5 176.7 533.3 174.8 534.1 172.9 535.0 171.0 535.9 169.1 536.8 167.3 537.7 165.4 538.7 163.6 539.7 161.8 540.7 160.0 541.7 158.3 542.8 156.6 543.9 154.8 545.0 153.1 546.2 151.4 547.4 149.8 548.6 148.2 549.8 146.6 551.1 144.9 552.4 143.4 553.8 141.9 555.1 140.4 556.5 138.9 558.0 137.4 559.4 136.0 560.9 134.6 562.4 133.3 564.0 132.0 565.5 130.7 567.1 129.4 568.7 128.2 570.4 127.0 572.0 125.9 573.7 124.7 575.4 123.6 577.1 122.6 578.9 121.5 580.6 120.5 582.4 119.5 584.2 118.6 586.0 117.6 587.8 116.8 589.7 115.9 591.5 115.1 593.4 114.2 595.2 113.5 597.1 112.7 599.0 112.0 600.9 111.2 602.8 110.5 604.7 109.9 606.6 109.2 608.6 108.6 610.5 108.0 612.5 107.4 614.4 106.8 616.4 106.3 618.3 105.7 620.3 105.2 622.2 104.7 624.2 104.2 626.1 103.7 628.1 103.3 630.1 102.8 632.1 102.4 634.1 102.0 636.1 101.5 638.1 101.1 640.1 100.8 642.1 100.4 644.1 100.0 646.1 99.7 648.1 99.3 650.1 99.0 652.1 98.7 654.1 98.3 656.1 98.0 658.1 97.7 660.1 97.4 662.1 97.2 664.1 96.9 666.1 96.6 668.1 96.3 670.1 96.1 672.1 95.8 674.1 95.6 676.1 95.4 678.1 95.1 680.1 94.9 682.1 94.7 684.1 94.5 686.1 94.3 688.1 94.1 690.1 93.9 692.1 93.7 694.1 93.5 696.1 93.3 698.1 93.1 700.1 93.0 702.1 92.8 704.1 92.6 706.1 92.5 708.1 92.3 710.1 92.1 712.1 92.0 714.1 91.8 716.1 91.7 718.1 91.6 720.1 91.4 722.1 91.3 724.1 91.1 726.1 91.0 728.1 90.9 730.1 90.8 732.1 90.6 734.1 90.5 736.1 90.4 738.1 90.3 740.1 90.2 742.1 90.1 744.1 90.0 746.1 89.9 748.1 89.7 750.1 89.6 752.1 89.5 754.1 89.4 756.1 89.4 758.1 89.3 760.1 89.2 762.1 89.1 764.1 89.0 766.1 88.9 768.1 88.8 770.1 88.7 772.1 88.7 774.1 88.6 776.1 88.5 778.1 88.4 780.1 88.3 782.1 88.3 784.1 88.2 786.1 88.1 788.1 88.0 790.1 88.0 792.1 87.9 794.1 87.8 796.1 87.8 798.1 87.7 800.1 87.6 802.1 87.6 804.1 87.5 806.1 87.5 808.1 87.4 810.1 87.3 812.1 87.3 814.1 87.2 816.1 87.2 818.1 87.1 820.1 87.1 822.1 87.0 824.1 87.0 826.1 86.9 828.1 86.9 830.1 86.8 832.1 86.8 834.1 86.7 836.1 86.7 838.1 86.6 840.1 86.6 842.1 86.5 844.1 86.5 846.1 86.4 848.1 86.4 850.1 86.4 852.1 86.3 854.1 86.3 856.1 86.2 858.1 86.2 860.1 86.2 862.1 86.1 864.1 86.1 866.1 86.0 868.1 86.0 870.1 86.0 872.1 85.9 874.1 85.9 876.1 85.9 878.1 85.8 880.1 85.8 882.1 85.8 884.1 85.7 886.1 85.7 888.1 85.7 890.1 85.6 892.1 85.6 894.1 85.6 896.1 85.6 898.1 85.5 900.1 85.5 902.1 85.5 904.1 85.4 906.1 85.4 907.0 85.4" stroke="#000" stroke-width="1.9" fill="none" stroke-dasharray="8 5"/>
</g>
<rect x="101.1" y="0.7" width="805.9" height="288.1" fill="none" stroke="#000" stroke-width="2"/>
<g class="sans" font-size="32.5" fill="#000">
<text x="49.42" y="24.8">.05</text>
<text x="94.5" y="162.6" text-anchor="end">0.95</text>
<text x="94.5" y="230.7" text-anchor="end">0.9</text>
<text x="94.5" y="299.7" text-anchor="end">0.85</text>
<text x="192.3" y="319.0" text-anchor="middle">6556</text>
<text x="366.6" y="319.0" text-anchor="middle">6560</text>
<text x="540.9" y="319.0" text-anchor="middle">6564</text>
<text x="715.2" y="319.0" text-anchor="middle">6568</text>
<text x="889.5" y="319.0" text-anchor="middle">6572</text>
<text x="506.1" y="357.4" text-anchor="middle" font-size="32.5">Wavelength (Å)</text>
</g>
<path d="M43.46 24.80L40.60 24.80L40.60 6.60C39.92 7.25 39.01 7.92 37.90 8.57C36.79 9.22 35.79 9.71 34.90 10.04L34.90 7.28C36.51 6.53 37.90 5.61 39.09 4.55C40.28 3.49 41.13 2.44 41.62 1.44L43.46 1.44ZM95.31 94.60L92.45 94.60L92.45 76.40C91.77 77.05 90.86 77.72 89.75 78.37C88.64 79.02 87.64 79.51 86.75 79.84L86.75 77.08C88.36 76.33 89.75 75.41 90.94 74.35C92.13 73.29 92.98 72.24 93.47 71.24L95.31 71.24Z" fill="#000"/>
<text class="sans" font-size="32.5" transform="translate(24.0,143.6) rotate(-90)" text-anchor="middle">Relative flux</text>
<text class="serif" font-size="31" x="889" y="49.9" text-anchor="end">HD 122563</text>
<rect x="140" y="213" width="186" height="73.3" fill="#fff"/>
<path d="M146,234.8H183.1" stroke="#000" stroke-width="1.9"/>
<path d="M146,266.9H181.4" stroke="#000" stroke-width="1.9" stroke-dasharray="8.2 5.2"/>
<g class="serif" font-size="22.5" fill="#000">
<text y="237.7"><tspan x="198.7">T</tspan><tspan x="211.2" dy="8.3" font-size="17">eff</tspan><tspan x="233.8" dy="-8.3">=</tspan><tspan x="252.6">4600</tspan><tspan x="302.5">K</tspan></text>
<text y="269.5"><tspan x="198.7">T</tspan><tspan x="211.2" dy="8.3" font-size="17">eff</tspan><tspan x="233.8" dy="-8.3">±</tspan><tspan x="252.9">50</tspan><tspan x="280.5">K</tspan></text>
</g>
<path d="M259.00,654.8v-14M259.00,373.0v14M407.00,654.8v-14M407.00,373.0v14M555.00,654.8v-14M555.00,373.0v14M703.00,654.8v-14M703.00,373.0v14M851.00,654.8v-14M851.00,373.0v14M140.60,654.8v-7M140.60,373.0v7M170.20,654.8v-7M170.20,373.0v7M199.80,654.8v-7M199.80,373.0v7M229.40,654.8v-7M229.40,373.0v7M288.60,654.8v-7M288.60,373.0v7M318.20,654.8v-7M318.20,373.0v7M347.80,654.8v-7M347.80,373.0v7M377.40,654.8v-7M377.40,373.0v7M436.60,654.8v-7M436.60,373.0v7M466.20,654.8v-7M466.20,373.0v7M495.80,654.8v-7M495.80,373.0v7M525.40,654.8v-7M525.40,373.0v7M584.60,654.8v-7M584.60,373.0v7M614.20,654.8v-7M614.20,373.0v7M643.80,654.8v-7M643.80,373.0v7M673.40,654.8v-7M673.40,373.0v7M732.60,654.8v-7M732.60,373.0v7M762.20,654.8v-7M762.20,373.0v7M791.80,654.8v-7M791.80,373.0v7M821.40,654.8v-7M821.40,373.0v7M880.60,654.8v-7M880.60,373.0v7M116.7,386.60h14M905.0,386.60h-14M116.7,453.65h14M905.0,453.65h-14M116.7,520.70h14M905.0,520.70h-14M116.7,587.75h14M905.0,587.75h-14M116.7,641.39h7M905.0,641.39h-7M116.7,627.98h7M905.0,627.98h-7M116.7,614.57h7M905.0,614.57h-7M116.7,601.16h7M905.0,601.16h-7M116.7,574.34h7M905.0,574.34h-7M116.7,560.93h7M905.0,560.93h-7M116.7,547.52h7M905.0,547.52h-7M116.7,534.11h7M905.0,534.11h-7M116.7,507.29h7M905.0,507.29h-7M116.7,493.88h7M905.0,493.88h-7M116.7,480.47h7M905.0,480.47h-7M116.7,467.06h7M905.0,467.06h-7M116.7,440.24h7M905.0,440.24h-7M116.7,426.83h7M905.0,426.83h-7M116.7,413.42h7M905.0,413.42h-7M116.7,400.01h7M905.0,400.01h-7" stroke="#000" stroke-width="1.5" fill="none"/>
<g clip-path="url(#cb)">
<path d="M117.0 456.7 117.9 457.4 118.8 458.5 119.7 462.5 120.6 466.1 121.5 454.5 122.4 468.3 122.5 477.3 123.3 459.4 124.2 459.8 125.1 467.4 126.0 463.9 126.9 457.1 127.3 473.9 127.8 472.1 128.7 459.8 129.6 464.6 130.5 464.2 131.4 469.5 132.3 460.9 133.2 467.3 134.1 459.3 135.0 467.5 135.9 458.9 136.8 460.6 137.7 470.6 138.6 463.4 139.5 462.5 140.4 452.6 140.4 472.1 141.3 463.6 142.2 458.3 143.1 465.3 144.0 456.7 144.9 467.1 145.8 467.6 146.7 459.8 147.6 459.7 148.5 463.5 149.4 462.9 150.3 458.5 151.2 465.3 152.1 453.4 153.0 460.5 153.4 473.9 153.9 460.4 154.8 453.3 154.8 460.8 155.7 463.4 156.6 456.5 157.5 464.6 158.4 461.2 159.3 459.1 160.2 455.8 161.1 456.5 162.0 463.2 162.3 452.0 162.9 457.1 163.8 461.5 164.7 465.8 165.6 465.5 166.5 467.7 167.4 459.2 168.3 455.5 169.2 464.8 170.1 461.4 171.0 465.3 171.9 460.4 172.8 465.9 173.7 464.5 174.6 464.1 175.3 453.3 175.5 463.2 176.4 462.5 177.3 461.6 178.2 461.4 179.1 464.6 180.0 457.7 180.9 468.2 181.5 452.0 181.8 460.2 182.7 465.5 183.6 461.0 184.5 460.7 185.4 471.5 185.6 455.4 186.3 461.6 187.2 458.0 188.1 461.3 189.0 463.8 189.9 475.6 190.8 467.1 191.7 470.5 192.6 462.0 193.2 475.3 193.5 468.3 194.4 469.9 195.3 474.9 196.2 462.9 197.1 468.0 198.0 466.0 198.9 459.3 199.8 463.1 200.7 462.2 201.6 454.0 202.5 466.7 203.0 464.8 203.4 466.8 204.3 464.3 204.9 468.5 205.5 473.8 207.3 468.5 207.3 479.6 208.6 482.7 209.2 479.0 209.8 484.3 210.4 478.7 211.7 484.6 212.3 488.3 212.9 489.5 213.5 485.8 215.0 482.1 216.0 477.2 218.5 472.8 218.5 477.8 219.7 477.2 221.5 472.5 222.3 466.9 222.7 452.0 223.2 465.5 224.1 463.1 225.0 471.6 225.9 468.8 226.8 464.8 227.7 462.0 228.6 471.9 229.5 463.7 230.4 462.0 231.3 463.8 232.2 464.0 233.1 469.1 234.0 462.8 234.9 472.4 235.8 459.3 236.7 466.6 237.6 459.2 238.5 472.2 239.4 462.8 240.3 464.3 241.2 468.9 242.1 470.7 243.0 460.1 243.9 463.7 244.8 459.1 245.6 476.0 245.7 466.1 246.6 465.1 247.5 464.1 248.4 462.7 249.3 464.2 250.2 462.7 251.1 468.5 252.0 473.1 252.9 457.7 253.8 466.0 254.5 482.1 254.7 464.7 255.6 468.9 256.5 462.5 257.4 466.3 258.3 462.4 259.2 470.5 260.1 468.0 261.0 467.1 261.9 469.8 262.8 467.3 263.7 461.6 264.6 471.6 265.5 470.4 266.4 468.7 267.3 474.1 268.2 475.4 269.1 465.3 270.0 466.9 270.9 477.6 271.8 477.3 272.7 467.7 273.6 465.7 274.4 482.1 274.5 468.1 275.4 468.8 275.7 486.2 276.3 463.9 277.2 471.1 278.1 465.2 279.0 465.6 279.9 475.1 280.8 468.0 281.7 470.9 282.6 474.2 283.3 481.4 283.5 475.1 284.4 470.0 285.3 471.9 286.2 468.1 287.1 479.8 288.0 474.9 288.9 467.3 289.8 472.5 290.7 476.0 291.6 475.2 292.5 481.5 293.4 479.7 294.3 471.4 295.2 473.6 296.1 468.4 297.0 475.4 297.9 475.1 298.8 486.7 299.7 475.1 300.4 482.8 300.4 487.6 300.6 465.4 301.5 471.9 302.4 475.5 303.3 469.3 304.2 471.1 305.1 473.4 306.0 476.5 306.9 474.3 307.8 471.0 308.7 478.5 309.6 472.6 310.5 472.9 311.4 469.1 312.3 472.0 313.2 478.7 314.1 468.7 315.0 475.9 315.9 479.7 316.8 475.0 317.7 478.0 318.6 472.1 319.5 483.3 320.4 482.6 321.3 479.0 322.2 470.3 323.1 473.8 324.0 483.1 324.9 486.7 325.8 480.4 326.7 484.9 327.6 476.6 328.5 478.6 329.4 479.6 330.3 481.7 331.2 473.0 332.1 484.2 333.0 486.1 333.9 475.1 334.0 493.0 334.8 474.3 335.7 482.0 336.6 477.6 337.5 470.0 338.4 484.4 339.3 481.6 340.2 478.9 341.1 490.9 342.0 482.4 342.9 478.7 343.8 482.9 344.7 478.1 345.6 479.7 346.5 485.2 347.4 481.3 348.3 482.1 349.2 491.9 350.1 488.5 351.0 488.5 351.9 487.5 352.8 487.6 353.7 492.2 354.6 485.8 355.5 494.5 356.4 482.1 357.3 485.5 358.2 480.7 359.1 485.6 360.0 489.8 360.9 494.2 361.8 485.0 362.7 488.3 363.6 487.1 364.5 486.0 365.4 484.8 366.3 489.6 367.2 484.2 368.1 490.4 369.0 491.4 369.6 492.2 371.2 495.3 372.2 496.3 372.7 504.0 373.7 505.1 374.3 514.8 374.8 519.0 375.8 521.0 376.3 531.3 377.1 545.7 377.9 553.4 378.5 569.1 379.4 602.9 380.2 634.2 393.4 649.5 394.2 626.1 395.0 591.5 395.7 572.9 396.5 564.7 397.4 552.9 397.9 534.4 398.4 532.9 399.5 526.7 400.0 516.4 400.5 524.1 401.5 521.0 402.6 517.4 403.6 515.4 405.1 513.8 406.7 512.8 408.2 511.2 409.8 505.6 409.8 509.7 410.8 511.8 412.3 513.3 412.9 527.2 413.9 515.4 414.4 516.9 415.4 521.0 415.9 524.6 417.0 525.6 417.5 531.3 418.0 531.4 418.4 539.1 419.4 535.2 420.4 544.3 421.0 544.3 421.3 530.9 422.3 537.1 422.5 537.5 423.2 543.9 425.2 546.3 426.6 541.0 427.6 547.2 428.5 551.5 428.6 551.9 430.0 537.5 430.0 537.6 430.9 543.4 431.9 549.1 433.3 543.4 433.8 546.7 434.3 552.0 436.2 550.6 438.1 558.7 438.6 556.8 438.9 566.6 441.0 558.7 442.5 571.9 443.4 578.2 447.8 581.7 448.7 586.2 450.5 597.8 451.4 601.4 453.2 611.2 455.0 615.6 455.9 619.2 456.4 624.5 457.1 637.0 458.2 645.0 552.6 648.6 553.5 641.4 554.4 633.4 555.6 620.6 556.2 610.6 557.1 602.8 557.4 598.1 558.5 593.3 559.7 585.3 560.6 580.8 562.4 573.7 564.2 569.2 566.0 564.8 568.7 558.5 570.4 552.3 572.2 548.7 574.9 542.5 576.7 538.9 579.0 537.1 580.5 533.6 582.0 529.3 583.5 527.9 585.0 529.8 585.9 527.4 586.8 527.9 587.7 514.7 588.6 517.6 589.5 515.5 590.4 516.3 591.3 513.2 592.2 512.3 593.1 516.5 594.0 513.5 594.9 507.5 595.8 516.6 596.7 514.5 597.6 507.7 598.5 512.4 599.4 505.6 600.3 512.2 601.2 506.4 602.1 503.6 603.0 504.7 603.9 502.7 604.8 505.9 605.7 505.3 606.6 504.2 607.5 501.3 608.4 488.7 609.3 502.8 610.2 494.5 611.1 502.3 612.0 505.2 612.9 501.3 613.8 498.2 614.7 498.5 615.6 498.1 616.5 496.0 617.4 495.3 618.3 493.4 619.2 501.1 620.1 495.9 621.0 499.5 621.9 494.6 622.8 495.7 623.7 494.6 624.6 496.9 625.5 498.1 626.4 495.7 627.3 491.9 628.2 491.3 629.1 500.7 630.0 492.9 630.9 492.5 631.8 499.0 632.6 506.4 632.7 497.2 633.6 494.6 634.5 490.6 635.4 501.0 636.3 493.0 637.2 493.3 638.1 490.1 639.0 484.9 639.9 484.8 640.8 490.9 641.7 490.1 642.6 487.0 643.5 482.8 644.0 501.9 644.4 481.0 645.3 484.7 646.2 480.3 647.1 489.0 648.0 489.7 648.9 495.8 649.8 488.3 650.7 482.6 651.6 481.4 652.5 471.6 653.4 482.1 654.3 483.5 655.2 487.6 656.1 486.1 657.0 485.8 657.9 484.2 658.8 485.7 659.7 488.5 660.6 479.1 661.5 481.4 662.4 478.3 663.3 488.3 664.2 487.0 665.1 484.5 666.0 481.4 666.9 484.2 667.8 484.6 668.7 489.0 669.6 494.3 671.1 501.1 671.9 511.0 672.6 515.5 673.4 522.3 674.2 530.3 675.2 536.6 675.7 539.6 676.4 535.8 677.2 523.8 677.5 513.5 678.4 518.5 679.4 504.9 680.9 494.3 680.9 497.4 682.5 487.5 683.1 487.7 684.0 486.1 684.9 482.0 685.8 483.2 686.7 484.2 687.6 482.1 688.5 479.7 689.4 487.0 690.3 481.9 691.2 484.7 692.1 479.4 693.0 483.6 693.9 477.1 694.8 481.3 695.7 484.8 696.6 481.4 697.5 478.2 698.4 474.2 699.3 481.6 700.2 482.5 700.6 487.3 701.1 478.8 702.0 475.6 702.9 483.3 703.8 494.8 704.7 477.9 705.6 481.6 706.5 481.7 707.4 463.9 708.3 479.9 709.2 474.7 710.1 486.2 711.0 476.9 711.9 474.2 712.8 476.5 713.7 477.8 714.6 475.4 715.5 477.4 716.4 476.0 717.3 479.0 718.2 481.9 719.5 482.7 720.0 489.3 720.7 496.7 721.5 504.1 722.5 515.6 723.1 518.1 724.4 525.5 725.3 531.2 726.1 534.5 727.2 538.6 728.1 528.8 728.9 523.0 729.7 517.7 730.5 506.5 731.4 496.7 732.3 491.7 733.5 479.4 733.5 484.3 734.4 473.3 735.3 468.4 736.2 471.4 737.1 471.1 738.0 469.0 738.9 473.6 739.8 474.1 740.7 462.3 741.6 470.6 742.5 468.2 743.4 467.9 744.3 469.6 745.2 463.5 746.1 464.9 747.0 465.0 747.5 460.5 747.9 469.7 748.8 474.2 749.7 473.5 750.6 476.0 751.5 480.7 752.4 481.9 753.3 489.0 754.2 491.8 755.1 495.8 756.0 493.8 756.9 493.4 757.8 492.5 758.7 491.2 759.6 483.5 760.5 479.7 761.4 475.8 762.3 471.4 763.2 468.4 764.1 470.4 765.0 468.7 765.6 476.9 765.9 466.7 766.8 466.0 767.2 455.5 767.7 467.7 768.6 469.4 769.5 469.0 770.4 466.7 770.5 473.6 771.3 468.4 772.2 465.4 773.1 469.5 774.0 464.6 774.9 456.7 775.8 469.4 776.7 464.6 777.6 459.7 778.5 463.2 779.4 460.5 780.3 471.5 781.2 465.3 782.1 457.4 783.0 465.2 783.4 454.4 783.9 461.5 784.8 470.2 785.7 459.1 786.6 454.6 787.5 463.2 788.4 461.7 788.6 473.1 789.3 461.4 790.2 454.9 791.1 464.2 792.0 468.5 792.9 454.7 793.8 465.9 794.7 459.0 795.6 469.7 796.5 462.3 796.6 451.0 796.9 450.6 797.4 459.8 798.3 464.5 799.2 462.1 800.0 452.0 800.1 457.8 801.0 462.9 801.9 458.5 802.8 453.9 803.7 468.4 804.6 459.6 804.8 453.9 805.5 459.9 806.4 464.4 807.3 463.7 808.2 467.0 809.1 470.8 810.0 474.1 810.9 479.0 811.8 481.3 813.0 490.9 813.9 505.7 814.7 518.6 815.3 529.0 816.1 556.1 816.9 591.0 817.6 621.8 818.4 650.6 824.2 635.2 825.1 607.0 825.7 587.6 826.5 563.2 827.2 535.4 827.9 518.1 828.3 506.0 828.9 503.7 829.8 488.2 830.7 484.3 831.6 481.6 832.5 477.0 833.4 474.0 834.3 470.5 835.2 470.8 836.1 469.1 836.9 454.7 837.0 463.5 837.9 468.2 838.8 461.5 839.0 448.4 839.7 462.7 840.6 464.3 841.5 461.7 842.4 469.3 843.3 460.9 844.2 455.3 845.1 464.5 846.0 457.9 846.9 458.1 847.8 447.8 848.7 462.9 849.3 447.8 849.6 462.4 850.5 462.5 851.4 463.3 852.3 466.2 853.2 459.9 854.1 464.0 854.5 452.2 855.0 458.6 855.9 460.6 856.8 465.6 857.7 464.0 858.6 462.3 859.5 467.2 860.4 470.0 861.3 473.4 862.2 476.4 863.1 479.3 864.0 484.4 864.9 496.7 865.7 511.5 866.5 524.7 867.4 526.3 867.9 536.3 868.7 547.5 869.7 557.4 870.2 563.2 870.6 560.3 871.4 541.1 872.5 536.9 873.3 528.4 874.0 504.4 874.8 496.3 875.7 490.7 876.6 481.6 877.5 473.7 878.4 471.0 879.3 471.4 880.2 470.1 881.1 470.6 882.0 464.0 882.9 466.9 883.8 464.7 883.8 453.9 884.7 460.0 885.6 463.4 886.5 462.0 887.4 460.2 888.3 463.1 889.2 456.1 890.1 461.1 891.0 462.8 891.9 462.1 892.8 465.4 893.7 457.3 894.6 456.6 895.3 466.2 895.5 463.6 896.4 464.9 897.0 472.8 897.3 471.6 898.2 466.3 899.1 460.4 900.0 466.5 900.9 460.0 901.8 457.3 902.7 472.4 903.6 463.6 904.5 464.8" stroke="none" fill="none" marker-start="url(#m)" marker-mid="url(#m)" marker-end="url(#m)"/>
<path d="M116.7 458.2 118.7 458.2 120.7 458.3 122.7 458.3 124.7 458.4 126.7 458.4 128.7 458.5 130.7 458.6 132.7 458.6 134.7 458.7 136.7 458.7 138.7 458.8 140.7 458.8 142.7 458.9 144.7 459.0 146.7 459.0 148.7 459.1 150.7 459.1 152.7 459.2 154.7 459.3 156.7 459.3 158.7 459.4 160.7 459.5 162.7 459.5 164.7 459.6 166.7 459.7 168.7 459.8 170.7 459.8 172.7 459.9 174.7 460.0 176.7 460.1 178.7 460.1 180.7 460.2 182.7 460.3 184.7 460.4 186.7 460.5 188.7 460.6 190.7 460.7 192.7 460.7 194.7 460.8 196.7 460.9 198.7 461.0 200.7 461.1 202.7 461.2 204.7 461.3 206.7 461.4 208.7 461.5 210.7 461.6 212.7 461.7 214.7 461.9 216.7 462.0 218.7 462.1 220.7 462.2 222.7 462.3 224.7 462.4 226.7 462.6 228.7 462.7 230.7 462.8 232.7 462.9 234.7 463.1 236.7 463.2 238.7 463.4 240.7 463.5 242.7 463.6 244.7 463.8 246.7 463.9 248.7 464.1 250.7 464.2 252.7 464.4 254.7 464.6 256.7 464.7 258.7 464.9 260.7 465.1 262.7 465.3 264.7 465.4 266.7 465.6 268.7 465.8 270.7 466.0 272.7 466.2 274.7 466.4 276.7 466.6 278.7 466.8 280.7 467.0 282.7 467.3 284.7 467.5 286.7 467.7 288.7 467.9 290.7 468.2 292.7 468.4 294.7 468.7 296.7 468.9 298.7 469.2 300.7 469.5 302.7 469.8 304.7 470.0 306.7 470.3 308.7 470.6 310.7 470.9 312.7 471.3 314.7 471.6 316.7 471.9 318.7 472.2 320.7 472.6 322.7 473.0 324.7 473.3 326.7 473.7 328.7 474.1 330.7 474.5 332.7 474.9 334.7 475.3 336.7 475.7 338.7 476.2 340.6 476.6 342.6 477.1 344.5 477.6 346.5 478.0 348.4 478.5 350.4 479.0 352.3 479.6 354.3 480.1 356.2 480.7 358.2 481.2 360.1 481.8 362.1 482.5 364.0 483.1 365.9 483.7 367.8 484.4 369.7 485.0 371.6 485.7 373.5 486.4 375.4 487.2 377.3 487.9 379.2 488.7 381.0 489.5 382.9 490.3 384.7 491.2 386.6 492.0 388.4 492.9 390.2 493.8 392.0 494.8 393.8 495.7 395.5 496.7 397.3 497.7 399.0 498.7 400.8 499.8 402.5 500.9 404.2 502.0 405.9 503.2 407.5 504.4 409.2 505.6 410.8 506.8 412.4 508.0 414.0 509.3 415.5 510.6 417.1 512.0 418.6 513.3 420.1 514.7 421.5 516.1 423.0 517.6 424.4 519.0 425.8 520.5 427.1 522.0 428.5 523.5 429.8 525.1 431.1 526.7 432.3 528.2 433.6 529.9 434.8 531.5 436.0 533.2 437.1 534.8 438.3 536.5 439.4 538.2 440.5 539.9 441.5 541.6 442.6 543.4 443.6 545.2 444.6 547.0 445.6 548.9 446.6 550.7 447.5 552.5 448.4 554.3 449.3 556.2 450.2 558.0 451.0 559.9 451.9 561.8 452.7 563.6 453.5 565.5 454.3 567.5 455.0 569.4 455.8 571.3 456.5 573.3 457.2 575.2 457.9 577.2 458.6 579.2 459.3 581.1 459.9 583.1 460.6 585.1 461.2 587.1 461.8 589.1 462.4 591.1 463.0 593.1 463.6 595.1 464.1 597.0 464.7 599.1 465.2 601.1 465.8 603.3 466.3 605.2 466.8 607.3 467.3 609.4 467.8 611.5 468.2 613.5 468.7 615.5 469.1 617.7 469.6 619.9 470.0 621.9 470.4 624.0 470.8 626.3 471.1 628.4 471.5 630.6 471.8 632.7 472.1 635.0 472.3 637.1 472.6 639.5 472.8 641.6 473.0 644.0 473.1 646.0 473.3 648.3 473.4 650.9 473.6 654.0 473.7 656.4 473.8 659.1 473.9 662.2 474.0 665.9 474.0 667.9 474.1 670.2 474.1 672.7 474.2 675.4 474.2 678.5 474.3 682.0 474.3 685.9 474.4 690.3M536.0 683.5 536.0 675.2 536.1 668.8 536.1 663.9 536.2 659.8 536.2 656.6 536.3 653.8 536.3 651.5 536.4 647.8 536.5 645.0 536.6 642.7 536.8 640.1 536.9 638.1 537.1 636.1 537.4 634.0 537.7 632.0 538.1 629.8 538.5 627.8 538.9 625.8 539.4 623.8 539.8 621.8 540.3 619.7 540.8 617.6 541.3 615.5 541.8 613.4 542.3 611.4 542.8 609.3 543.3 607.3 543.8 605.4 544.4 603.3 544.9 601.2 545.5 599.1 546.0 597.1 546.6 595.1 547.1 593.2 547.7 591.1 548.3 589.1 548.9 587.1 549.5 585.2 550.2 583.1 550.8 581.1 551.5 579.2 552.1 577.3 552.8 575.3 553.5 573.3 554.2 571.4 555.0 569.4 555.7 567.5 556.5 565.6 557.3 563.7 558.1 561.8 558.9 559.9 559.7 558.0 560.6 556.1 561.5 554.2 562.4 552.4 563.3 550.6 564.2 548.7 565.2 546.9 566.2 545.1 567.2 543.3 568.2 541.5 569.3 539.8 570.4 538.0 571.5 536.3 572.6 534.6 573.8 532.9 575.0 531.2 576.2 529.6 577.4 527.9 578.7 526.3 580.0 524.7 581.3 523.2 582.6 521.6 584.0 520.1 585.4 518.6 586.8 517.2 588.2 515.7 589.7 514.3 591.2 512.9 592.7 511.6 594.2 510.2 595.8 508.9 597.4 507.6 599.0 506.4 600.6 505.2 602.2 504.0 603.9 502.8 605.6 501.6 607.3 500.5 609.0 499.4 610.7 498.4 612.5 497.3 614.2 496.3 616.0 495.4 617.8 494.4 619.6 493.5 621.4 492.6 623.3 491.7 625.1 490.8 627.0 490.0 628.8 489.2 630.7 488.4 632.6 487.6 634.5 486.9 636.4 486.2 638.3 485.5 640.2 484.8 642.1 484.1 644.0 483.5 645.9 482.9 647.9 482.2 649.8 481.6 651.8 481.1 653.7 480.5 655.7 479.9 657.6 479.4 659.6 478.9 661.5 478.4 663.5 477.9 665.4 477.4 667.4 477.0 669.3 476.5 671.3 476.1 673.3 475.7 675.3 475.2 677.3 474.8 679.3 474.4 681.3 474.0 683.3 473.7 685.3 473.3 687.3 472.9 689.3 472.6 691.3 472.2 693.3 471.9 695.3 471.6 697.3 471.3 699.3 471.0 701.3 470.7 703.3 470.4 705.3 470.1 707.3 469.8 709.3 469.5 711.3 469.3 713.3 469.0 715.3 468.7 717.3 468.5 719.3 468.3 721.3 468.0 723.3 467.8 725.3 467.6 727.3 467.3 729.3 467.1 731.3 466.9 733.3 466.7 735.3 466.5 737.3 466.3 739.3 466.1 741.3 465.9 743.3 465.7 745.3 465.6 747.3 465.4 749.3 465.2 751.3 465.0 753.3 464.9 755.3 464.7 757.3 464.5 759.3 464.4 761.3 464.2 763.3 464.1 765.3 463.9 767.3 463.8 769.3 463.6 771.3 463.5 773.3 463.4 775.3 463.2 777.3 463.1 779.3 463.0 781.3 462.8 783.3 462.7 785.3 462.6 787.3 462.5 789.3 462.4 791.3 462.2 793.3 462.1 795.3 462.0 797.3 461.9 799.3 461.8 801.3 461.7 803.3 461.6 805.3 461.5 807.3 461.4 809.3 461.3 811.3 461.2 813.3 461.1 815.3 461.0 817.3 460.9 819.3 460.8 821.3 460.8 823.3 460.7 825.3 460.6 827.3 460.5 829.3 460.4 831.3 460.3 833.3 460.3 835.3 460.2 837.3 460.1 839.3 460.0 841.3 459.9 843.3 459.9 845.3 459.8 847.3 459.7 849.3 459.7 851.3 459.6 853.3 459.5 855.3 459.5 857.3 459.4 859.3 459.3 861.3 459.3 863.3 459.2 865.3 459.1 867.3 459.1 869.3 459.0 871.3 459.0 873.3 458.9 875.3 458.9 877.3 458.8 879.3 458.7 881.3 458.7 883.3 458.6 885.3 458.6 887.3 458.5 889.3 458.5 891.3 458.4 893.3 458.4 895.3 458.3 897.3 458.3 899.3 458.2 901.3 458.2 903.3 458.1 905.0 458.1" stroke="#000" stroke-width="2" fill="none"/>
<path d="M116.7 458.9 118.7 459.0 120.7 459.0 122.7 459.1 124.7 459.1 126.7 459.2 128.7 459.3 130.7 459.3 132.7 459.4 134.7 459.4 136.7 459.5 138.7 459.6 140.7 459.6 142.7 459.7 144.7 459.8 146.7 459.8 148.7 459.9 150.7 460.0 152.7 460.1 154.7 460.1 156.7 460.2 158.7 460.3 160.7 460.4 162.7 460.4 164.7 460.5 166.7 460.6 168.7 460.7 170.7 460.8 172.7 460.9 174.7 460.9 176.7 461.0 178.7 461.1 180.7 461.2 182.7 461.3 184.7 461.4 186.7 461.5 188.7 461.6 190.7 461.7 192.7 461.8 194.7 461.9 196.7 462.0 198.7 462.1 200.7 462.2 202.7 462.3 204.7 462.4 206.7 462.6 208.7 462.7 210.7 462.8 212.7 462.9 214.7 463.0 216.7 463.2 218.7 463.3 220.7 463.4 222.7 463.6 224.7 463.7 226.7 463.8 228.7 464.0 230.7 464.1 232.7 464.3 234.7 464.4 236.7 464.6 238.7 464.7 240.7 464.9 242.7 465.0 244.7 465.2 246.7 465.4 248.7 465.5 250.7 465.7 252.7 465.9 254.7 466.1 256.7 466.3 258.7 466.4 260.7 466.6 262.7 466.8 264.7 467.0 266.7 467.2 268.7 467.4 270.7 467.7 272.7 467.9 274.7 468.1 276.7 468.3 278.7 468.6 280.7 468.8 282.7 469.0 284.7 469.3 286.7 469.5 288.7 469.8 290.7 470.1 292.7 470.3 294.7 470.6 296.7 470.9 298.7 471.2 300.7 471.5 302.7 471.8 304.7 472.1 306.7 472.4 308.7 472.8 310.7 473.1 312.7 473.4 314.7 473.8 316.7 474.2 318.7 474.5 320.7 474.9 322.7 475.3 324.7 475.7 326.7 476.1 328.7 476.5 330.7 477.0 332.7 477.4 334.6 477.9 336.6 478.3 338.5 478.8 340.5 479.3 342.4 479.8 344.4 480.3 346.3 480.8 348.3 481.3 350.2 481.9 352.2 482.5 354.1 483.0 356.1 483.6 358.0 484.3 360.0 484.9 361.9 485.5 363.8 486.2 365.7 486.9 367.6 487.6 369.5 488.3 371.4 489.0 373.3 489.8 375.1 490.6 377.0 491.4 378.8 492.2 380.7 493.0 382.5 493.9 384.3 494.8 386.1 495.7 387.9 496.6 389.7 497.6 391.5 498.6 393.3 499.5 395.0 500.6 396.8 501.6 398.5 502.7 400.2 503.8 401.9 504.9 403.5 506.1 405.2 507.3 406.8 508.5 408.4 509.7 410.0 511.0 411.6 512.3 413.2 513.6 414.7 514.9 416.2 516.3 417.7 517.7 419.2 519.1 420.6 520.5 422.0 521.9 423.4 523.4 424.8 524.9 426.1 526.4 427.5 528.0 428.8 529.6 430.1 531.2 431.3 532.8 432.6 534.5 433.8 536.1 435.0 537.8 436.1 539.5 437.3 541.2 438.4 542.9 439.5 544.7 440.5 546.4 441.6 548.2 442.6 549.9 443.6 551.7 444.6 553.6 445.5 555.4 446.5 557.3 447.4 559.1 448.3 560.9 449.2 562.8 450.0 564.7 450.9 566.6 451.7 568.5 452.5 570.4 453.3 572.3 454.0 574.2 454.8 576.1 455.5 578.1 456.2 580.0 456.9 581.9 457.6 583.9 458.3 585.9 459.0 587.9 459.6 589.9 460.3 591.9 460.9 593.8 461.5 595.8 462.1 597.8 462.7 599.9 463.2 601.8 463.8 603.8 464.3 605.9 464.9 608.0 465.4 609.9 465.9 611.9 466.4 614.0 466.9 616.1 467.3 618.1 467.8 620.2 468.2 622.3 468.6 624.3 469.0 626.4 469.4 628.7 469.8 630.8 470.1 633.1 470.4 635.2 470.7 637.6 471.0 639.9 471.2 641.9 471.4 644.1 471.6 646.7 471.7 648.9 471.9 651.4 472.0 654.4 472.1 656.6 472.2 659.1 472.3 662.0 472.4 665.4 472.5 669.3 472.6 671.5 472.6 674.0 472.7 676.6 472.7 679.6 472.8 682.9 472.8 686.7 472.9 690.9M537.5 688.4 537.5 679.4 537.6 672.5 537.6 667.1 537.7 662.8 537.7 659.2 537.8 656.2 537.8 653.7 537.9 651.6 538.0 648.1 538.1 645.4 538.2 643.2 538.3 640.7 538.5 638.1 538.8 635.7 539.1 633.5 539.4 631.5 539.8 629.5 540.3 627.5 540.8 625.3 541.3 623.3 541.8 621.3 542.3 619.3 542.8 617.3 543.3 615.4 543.8 613.3 544.4 611.2 544.9 609.1 545.5 607.1 546.0 605.1 546.6 603.1 547.1 601.2 547.7 599.1 548.3 597.0 548.9 595.0 549.5 593.1 550.1 591.2 550.8 589.1 551.4 587.1 552.1 585.2 552.7 583.3 553.4 581.3 554.1 579.3 554.8 577.4 555.6 575.4 556.3 573.4 557.1 571.5 557.8 569.7 558.6 567.8 559.4 565.9 560.3 563.9 561.1 562.0 562.0 560.2 562.9 558.3 563.8 556.5 564.7 554.7 565.6 552.9 566.6 551.1 567.6 549.2 568.6 547.5 569.6 545.7 570.7 543.9 571.8 542.2 572.9 540.4 574.0 538.7 575.2 537.0 576.3 535.4 577.5 533.7 578.7 532.1 580.0 530.5 581.2 528.9 582.5 527.4 583.8 525.8 585.2 524.3 586.5 522.8 587.9 521.3 589.3 519.9 590.8 518.4 592.2 517.0 593.7 515.7 595.2 514.3 596.8 513.0 598.3 511.7 599.9 510.4 601.5 509.1 603.1 507.9 604.8 506.7 606.4 505.5 608.1 504.4 609.8 503.3 611.5 502.2 613.2 501.1 614.9 500.1 616.7 499.0 618.4 498.1 620.2 497.1 622.0 496.1 623.8 495.2 625.6 494.3 627.5 493.5 629.3 492.6 631.2 491.8 633.0 491.0 634.9 490.2 636.8 489.4 638.7 488.7 640.6 487.9 642.5 487.2 644.4 486.5 646.3 485.9 648.2 485.2 650.1 484.6 652.0 484.0 654.0 483.4 655.9 482.8 657.9 482.2 659.8 481.7 661.8 481.1 663.7 480.6 665.7 480.1 667.6 479.6 669.6 479.1 671.5 478.6 673.5 478.2 675.4 477.7 677.4 477.3 679.4 476.8 681.4 476.4 683.4 476.0 685.4 475.6 687.4 475.2 689.4 474.8 691.4 474.5 693.4 474.1 695.4 473.7 697.4 473.4 699.4 473.1 701.4 472.7 703.4 472.4 705.4 472.1 707.4 471.8 709.4 471.5 711.4 471.2 713.4 470.9 715.4 470.6 717.4 470.4 719.4 470.1 721.4 469.8 723.4 469.6 725.4 469.3 727.4 469.1 729.4 468.8 731.4 468.6 733.4 468.4 735.4 468.2 737.4 467.9 739.4 467.7 741.4 467.5 743.4 467.3 745.4 467.1 747.4 466.9 749.4 466.7 751.4 466.5 753.4 466.4 755.4 466.2 757.4 466.0 759.4 465.8 761.4 465.6 763.4 465.5 765.4 465.3 767.4 465.2 769.4 465.0 771.4 464.8 773.4 464.7 775.4 464.5 777.4 464.4 779.4 464.3 781.4 464.1 783.4 464.0 785.4 463.8 787.4 463.7 789.4 463.6 791.4 463.4 793.4 463.3 795.4 463.2 797.4 463.1 799.4 463.0 801.4 462.8 803.4 462.7 805.4 462.6 807.4 462.5 809.4 462.4 811.4 462.3 813.4 462.2 815.4 462.1 817.4 462.0 819.4 461.9 821.4 461.8 823.4 461.7 825.4 461.6 827.4 461.5 829.4 461.4 831.4 461.3 833.4 461.2 835.4 461.1 837.4 461.0 839.4 461.0 841.4 460.9 843.4 460.8 845.4 460.7 847.4 460.6 849.4 460.5 851.4 460.5 853.4 460.4 855.4 460.3 857.4 460.2 859.4 460.2 861.4 460.1 863.4 460.0 865.4 460.0 867.4 459.9 869.4 459.8 871.4 459.8 873.4 459.7 875.4 459.6 877.4 459.6 879.4 459.5 881.4 459.4 883.4 459.4 885.4 459.3 887.4 459.3 889.4 459.2 891.4 459.1 893.4 459.1 895.4 459.0 897.4 459.0 899.4 458.9 901.4 458.9 903.4 458.8 905.0 458.8" stroke="#000" stroke-width="1.9" fill="none" stroke-dasharray="8 5"/>
<path d="M116.7 457.5 118.7 457.6 120.7 457.6 122.7 457.6 124.7 457.7 126.7 457.7 128.7 457.8 130.7 457.8 132.7 457.9 134.7 457.9 136.7 458.0 138.7 458.0 140.7 458.1 142.7 458.1 144.7 458.2 146.7 458.2 148.7 458.3 150.7 458.3 152.7 458.4 154.7 458.5 156.7 458.5 158.7 458.6 160.7 458.6 162.7 458.7 164.7 458.8 166.7 458.8 168.7 458.9 170.7 458.9 172.7 459.0 174.7 459.1 176.7 459.2 178.7 459.2 180.7 459.3 182.7 459.4 184.7 459.4 186.7 459.5 188.7 459.6 190.7 459.7 192.7 459.7 194.7 459.8 196.7 459.9 198.7 460.0 200.7 460.1 202.7 460.2 204.7 460.2 206.7 460.3 208.7 460.4 210.7 460.5 212.7 460.6 214.7 460.7 216.7 460.8 218.7 460.9 220.7 461.0 222.7 461.1 224.7 461.2 226.7 461.3 228.7 461.4 230.7 461.6 232.7 461.7 234.7 461.8 236.7 461.9 238.7 462.0 240.7 462.2 242.7 462.3 244.7 462.4 246.7 462.6 248.7 462.7 250.7 462.8 252.7 463.0 254.7 463.1 256.7 463.3 258.7 463.4 260.7 463.6 262.7 463.7 264.7 463.9 266.7 464.1 268.7 464.2 270.7 464.4 272.7 464.6 274.7 464.7 276.7 464.9 278.7 465.1 280.7 465.3 282.7 465.5 284.7 465.7 286.7 465.9 288.7 466.1 290.7 466.3 292.7 466.6 294.7 466.8 296.7 467.0 298.7 467.3 300.7 467.5 302.7 467.8 304.7 468.0 306.7 468.3 308.7 468.5 310.7 468.8 312.7 469.1 314.7 469.4 316.7 469.7 318.7 470.0 320.7 470.3 322.7 470.6 324.7 471.0 326.7 471.3 328.7 471.7 330.7 472.0 332.7 472.4 334.7 472.8 336.7 473.2 338.7 473.6 340.7 474.0 342.7 474.4 344.7 474.9 346.7 475.3 348.6 475.8 350.6 476.2 352.5 476.7 354.5 477.2 356.4 477.7 358.4 478.3 360.3 478.8 362.3 479.4 364.2 479.9 366.2 480.5 368.1 481.2 370.1 481.8 372.0 482.4 373.9 483.1 375.8 483.8 377.7 484.5 379.6 485.2 381.5 486.0 383.3 486.7 385.2 487.5 387.0 488.3 388.9 489.2 390.7 490.1 392.5 490.9 394.3 491.9 396.1 492.8 397.9 493.8 399.7 494.8 401.4 495.8 403.2 496.8 404.9 497.9 406.6 499.0 408.3 500.1 409.9 501.3 411.6 502.5 413.2 503.7 414.8 505.0 416.4 506.3 418.0 507.6 419.5 508.9 421.0 510.2 422.5 511.6 424.0 513.0 425.4 514.5 426.8 515.9 428.2 517.4 429.6 518.9 430.9 520.5 432.2 522.1 433.5 523.7 434.8 525.3 436.0 526.9 437.2 528.6 438.4 530.3 439.6 532.0 440.7 533.7 441.8 535.4 442.9 537.1 443.9 538.9 445.0 540.7 446.0 542.5 447.0 544.4 447.9 546.2 448.9 548.0 449.8 549.9 450.7 551.7 451.5 553.6 452.4 555.4 453.2 557.4 454.0 559.3 454.8 561.2 455.6 563.0 456.3 565.0 457.1 566.9 457.8 568.8 458.5 570.8 459.2 572.8 459.8 574.7 460.5 576.6 461.1 578.6 461.8 580.7 462.4 582.6 463.0 584.6 463.6 586.6 464.2 588.7 464.7 590.7 465.3 592.7 465.8 594.8 466.4 596.9 466.9 598.9 467.4 601.0 467.9 603.0 468.4 605.2 468.8 607.2 469.3 609.2 469.7 611.3 470.2 613.4 470.6 615.4 471.0 617.4 471.4 619.5 471.8 621.7 472.1 623.7 472.5 625.8 472.8 628.1 473.1 630.1 473.4 632.3 473.7 634.3 473.9 636.5 474.2 639.0 474.4 641.3 474.6 643.8 474.7 646.0 474.9 648.5 475.0 651.4 475.1 653.6 475.2 656.2 475.3 659.1 475.4 662.4 475.5 666.4 475.6 668.7 475.6 671.3 475.7 674.1 475.7 677.3 475.8 680.9 475.8 685.0 475.9 689.6M534.4 689.1 534.5 678.7 534.5 671.0 534.6 665.2 534.6 660.6 534.7 656.9 534.7 653.9 534.8 651.4 534.8 649.3 534.9 645.9 535.0 643.3 535.1 641.3 535.3 638.9 535.5 636.4 535.7 634.2 536.0 632.0 536.4 629.9 536.8 627.8 537.2 625.8 537.6 623.6 538.1 621.5 538.5 619.4 539.0 617.4 539.4 615.3 539.9 613.3 540.3 611.3 540.8 609.4 541.3 607.2 541.8 605.1 542.3 603.0 542.8 601.0 543.3 599.0 543.8 597.0 544.3 595.1 544.8 593.0 545.4 590.9 545.9 588.9 546.5 587.0 547.1 584.9 547.7 582.8 548.3 580.9 548.9 578.9 549.5 576.9 550.2 574.9 550.8 572.9 551.5 571.0 552.2 569.0 552.9 567.1 553.6 565.2 554.3 563.2 555.1 561.3 555.8 559.4 556.6 557.5 557.4 555.6 558.3 553.7 559.1 551.8 560.0 550.0 560.9 548.1 561.8 546.3 562.7 544.4 563.7 542.7 564.7 540.8 565.7 539.0 566.7 537.2 567.8 535.5 568.9 533.7 570.0 532.0 571.1 530.3 572.3 528.6 573.5 527.0 574.7 525.3 575.9 523.7 577.2 522.1 578.5 520.6 579.8 519.0 581.1 517.5 582.5 516.0 583.9 514.5 585.4 513.0 586.8 511.6 588.3 510.2 589.8 508.9 591.4 507.5 592.9 506.2 594.5 504.9 596.1 503.6 597.7 502.4 599.4 501.2 601.0 500.1 602.7 498.9 604.4 497.8 606.1 496.8 607.9 495.7 609.6 494.7 611.4 493.7 613.2 492.7 615.0 491.8 616.8 490.9 618.6 490.0 620.4 489.2 622.3 488.3 624.1 487.5 626.0 486.7 627.9 485.9 629.8 485.2 631.7 484.5 633.6 483.8 635.5 483.1 637.4 482.4 639.3 481.8 641.2 481.2 643.2 480.6 645.1 480.0 647.1 479.4 649.0 478.8 651.0 478.3 652.9 477.8 654.9 477.3 656.8 476.8 658.8 476.3 660.7 475.8 662.7 475.4 664.7 474.9 666.7 474.5 668.7 474.1 670.7 473.7 672.7 473.3 674.7 472.9 676.7 472.5 678.7 472.1 680.7 471.8 682.7 471.4 684.7 471.1 686.7 470.8 688.7 470.5 690.7 470.1 692.7 469.8 694.7 469.5 696.7 469.3 698.7 469.0 700.7 468.7 702.7 468.4 704.7 468.2 706.7 467.9 708.7 467.7 710.7 467.4 712.7 467.2 714.7 467.0 716.7 466.7 718.7 466.5 720.7 466.3 722.7 466.1 724.7 465.9 726.7 465.7 728.7 465.5 730.7 465.3 732.7 465.1 734.7 464.9 736.7 464.8 738.7 464.6 740.7 464.4 742.7 464.2 744.7 464.1 746.7 463.9 748.7 463.8 750.7 463.6 752.7 463.5 754.7 463.3 756.7 463.2 758.7 463.0 760.7 462.9 762.7 462.8 764.7 462.6 766.7 462.5 768.7 462.4 770.7 462.2 772.7 462.1 774.7 462.0 776.7 461.9 778.7 461.8 780.7 461.7 782.7 461.6 784.7 461.4 786.7 461.3 788.7 461.2 790.7 461.1 792.7 461.0 794.7 460.9 796.7 460.8 798.7 460.7 800.7 460.6 802.7 460.6 804.7 460.5 806.7 460.4 808.7 460.3 810.7 460.2 812.7 460.1 814.7 460.0 816.7 460.0 818.7 459.9 820.7 459.8 822.7 459.7 824.7 459.6 826.7 459.6 828.7 459.5 830.7 459.4 832.7 459.4 834.7 459.3 836.7 459.2 838.7 459.2 840.7 459.1 842.7 459.0 844.7 459.0 846.7 458.9 848.7 458.8 850.7 458.8 852.7 458.7 854.7 458.7 856.7 458.6 858.7 458.6 860.7 458.5 862.7 458.4 864.7 458.4 866.7 458.3 868.7 458.3 870.7 458.2 872.7 458.2 874.7 458.1 876.7 458.1 878.7 458.0 880.7 458.0 882.7 457.9 884.7 457.9 886.7 457.8 888.7 457.8 890.7 457.8 892.7 457.7 894.7 457.7 896.7 457.6 898.7 457.6 900.7 457.5 902.7 457.5 904.7 457.5 905.0 457.5" stroke="#000" stroke-width="1.9" fill="none" stroke-dasharray="8 5"/>
</g>
<rect x="116.7" y="373.0" width="788.3" height="281.79999999999995" fill="none" stroke="#000" stroke-width="2"/>
<g class="sans" font-size="32.5" fill="#000">
<text x="65.97" y="397.4">.05</text>
<text x="110.3" y="531.8" text-anchor="end">0.95</text>
<text x="110.3" y="598.8" text-anchor="end">0.9</text>
<text x="110.3" y="665.9" text-anchor="end">0.85</text>
<text x="259.2" y="684.7" text-anchor="middle">4858</text>
<text x="407" y="684.7" text-anchor="middle">4860</text>
<text x="555" y="684.7" text-anchor="middle">4862</text>
<text x="703" y="684.7" text-anchor="middle">4864</text>
<text x="851" y="684.7" text-anchor="middle">4866</text>
<text x="511.75" y="722.5" text-anchor="middle" font-size="31.8">Wavelength (Å)</text>
</g>
<path d="M60.01 397.40L57.15 397.40L57.15 379.20C56.47 379.85 55.56 380.52 54.45 381.17C53.34 381.82 52.34 382.31 51.45 382.64L51.45 379.88C53.06 379.13 54.45 378.21 55.64 377.15C56.83 376.09 57.68 375.04 58.17 374.04L60.01 374.04ZM111.31 465.20L108.45 465.20L108.45 447.00C107.77 447.65 106.86 448.32 105.75 448.97C104.64 449.62 103.64 450.11 102.75 450.44L102.75 447.68C104.36 446.93 105.75 446.01 106.94 444.95C108.13 443.89 108.98 442.84 109.47 441.84L111.31 441.84Z" fill="#000"/>
<text class="sans" font-size="31.5" transform="translate(41.4,513) rotate(-90)" text-anchor="middle">Relative flux</text>
<text class="serif" font-size="30.5" x="888.2" y="421.1" text-anchor="end">HD 122563</text>
<rect x="155.1" y="580.3" width="186" height="72.0" fill="#fff"/>
<path d="M161.1,602.1H198.2" stroke="#000" stroke-width="1.9"/>
<path d="M161.1,633.4000000000001H196.5" stroke="#000" stroke-width="1.9" stroke-dasharray="8.2 5.2"/>
<g class="serif" font-size="22.5" fill="#000">
<text y="604.7"><tspan x="211.7">T</tspan><tspan x="224.2" dy="8.3" font-size="17">eff</tspan><tspan x="246.8" dy="-8.3">=</tspan><tspan x="265.6">4600</tspan><tspan x="315.5">K</tspan></text>
<text y="636.5"><tspan x="211.7">T</tspan><tspan x="224.2" dy="8.3" font-size="17">eff</tspan><tspan x="246.8" dy="-8.3">±</tspan><tspan x="265.9">50</tspan><tspan x="293.5">K</tspan></text>
</g>
</svg></body></html>
